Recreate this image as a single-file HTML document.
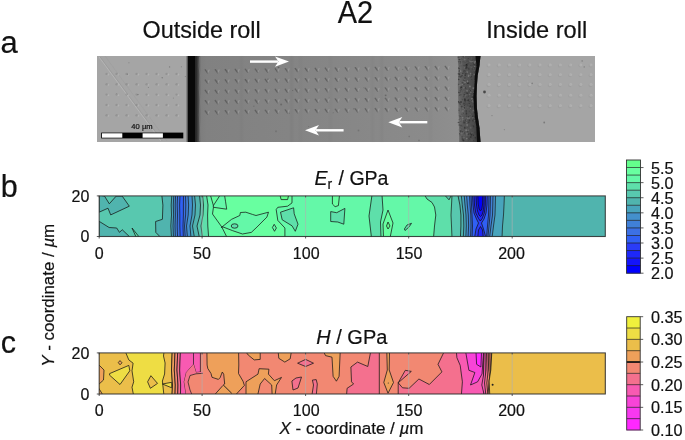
<!DOCTYPE html>
<html><head><meta charset="utf-8"><style>
html,body{margin:0;padding:0;background:#fff;}
svg{display:block;font-family:"Liberation Sans", sans-serif;will-change:transform;}
text{fill:#111;stroke:#111;stroke-width:0.2px;}
</style></head><body>
<svg width="685" height="440" viewBox="0 0 685 440">
<rect width="685" height="440" fill="#fff"/>
<defs><filter id="bl" x="-5%" y="-5%" width="110%" height="110%"><feGaussianBlur stdDeviation="0.75"/></filter><filter id="bl2" x="-5%" y="-5%" width="110%" height="110%"><feGaussianBlur stdDeviation="0.8"/></filter><filter id="bl3"><feGaussianBlur stdDeviation="0.35"/></filter><linearGradient id="gm" x1="0" x2="1" y1="0" y2="0"><stop offset="0" stop-color="#7a7a7a"/><stop offset="0.04" stop-color="#818181"/><stop offset="0.45" stop-color="#858585"/><stop offset="0.88" stop-color="#8b8b8b"/><stop offset="1" stop-color="#8f8f8f"/></linearGradient><linearGradient id="gd" x1="0" x2="1" y1="0" y2="0"><stop offset="0" stop-color="#6e6e6e"/><stop offset="0.25" stop-color="#585858"/><stop offset="0.7" stop-color="#4a4a4a"/><stop offset="1" stop-color="#2e2e2e"/></linearGradient></defs>
<g id="micro">
<rect x="97" y="56" width="498" height="86" fill="#a5a5a5"/>
<rect x="195.5" y="56" width="266.5" height="86" fill="url(#gm)"/>
<g filter="url(#bl2)">
<rect x="241" y="56" width="1.2" height="86" fill="#000" opacity="0.05"/>
<rect x="291" y="56" width="1.2" height="86" fill="#000" opacity="0.08"/>
<rect x="300" y="56" width="1.2" height="86" fill="#000" opacity="0.04"/>
<rect x="330" y="56" width="1.2" height="86" fill="#000" opacity="0.04"/>
<rect x="372" y="56" width="1.2" height="86" fill="#000" opacity="0.05"/>
<rect x="381" y="56" width="1.2" height="86" fill="#000" opacity="0.06"/>
<rect x="430" y="56" width="1.2" height="86" fill="#000" opacity="0.04"/>
</g>
<g filter="url(#bl)">
<line x1="99" y1="57" x2="161" y2="141" stroke="#c4c4c4" stroke-width="0.9" opacity="0.55"/>
<line x1="100.2" y1="57" x2="162.2" y2="141" stroke="#7a7a7a" stroke-width="0.6" opacity="0.35"/>
<line x1="105" y1="56" x2="167" y2="141" stroke="#8c8c8c" stroke-width="0.6" opacity="0.3"/>
<circle cx="106.6" cy="73.9" r="1.2" fill="#555" opacity="0.22"/>
<circle cx="108.4" cy="74.5" r="0.9" fill="#d4d4d4" opacity="0.3"/>
<circle cx="116.6" cy="73.9" r="1.2" fill="#555" opacity="0.22"/>
<circle cx="118.4" cy="74.5" r="0.9" fill="#d4d4d4" opacity="0.3"/>
<circle cx="126.6" cy="73.9" r="1.2" fill="#555" opacity="0.22"/>
<circle cx="128.4" cy="74.5" r="0.9" fill="#d4d4d4" opacity="0.3"/>
<circle cx="136.6" cy="73.9" r="1.2" fill="#555" opacity="0.22"/>
<circle cx="138.4" cy="74.5" r="0.9" fill="#d4d4d4" opacity="0.3"/>
<circle cx="146.6" cy="73.9" r="1.2" fill="#555" opacity="0.22"/>
<circle cx="148.4" cy="74.5" r="0.9" fill="#d4d4d4" opacity="0.3"/>
<circle cx="156.6" cy="73.9" r="1.2" fill="#555" opacity="0.22"/>
<circle cx="158.4" cy="74.5" r="0.9" fill="#d4d4d4" opacity="0.3"/>
<circle cx="166.6" cy="73.9" r="1.2" fill="#555" opacity="0.22"/>
<circle cx="168.4" cy="74.5" r="0.9" fill="#d4d4d4" opacity="0.3"/>
<circle cx="176.6" cy="73.9" r="1.2" fill="#555" opacity="0.22"/>
<circle cx="178.4" cy="74.5" r="0.9" fill="#d4d4d4" opacity="0.3"/>
<circle cx="106.6" cy="84.2" r="1.2" fill="#555" opacity="0.22"/>
<circle cx="108.4" cy="84.8" r="0.9" fill="#d4d4d4" opacity="0.3"/>
<circle cx="116.6" cy="84.2" r="1.2" fill="#555" opacity="0.22"/>
<circle cx="118.4" cy="84.8" r="0.9" fill="#d4d4d4" opacity="0.3"/>
<circle cx="126.6" cy="84.2" r="1.2" fill="#555" opacity="0.22"/>
<circle cx="128.4" cy="84.8" r="0.9" fill="#d4d4d4" opacity="0.3"/>
<circle cx="136.6" cy="84.2" r="1.2" fill="#555" opacity="0.22"/>
<circle cx="138.4" cy="84.8" r="0.9" fill="#d4d4d4" opacity="0.3"/>
<circle cx="146.6" cy="84.2" r="1.2" fill="#555" opacity="0.22"/>
<circle cx="148.4" cy="84.8" r="0.9" fill="#d4d4d4" opacity="0.3"/>
<circle cx="156.6" cy="84.2" r="1.2" fill="#555" opacity="0.22"/>
<circle cx="158.4" cy="84.8" r="0.9" fill="#d4d4d4" opacity="0.3"/>
<circle cx="166.6" cy="84.2" r="1.2" fill="#555" opacity="0.22"/>
<circle cx="168.4" cy="84.8" r="0.9" fill="#d4d4d4" opacity="0.3"/>
<circle cx="176.6" cy="84.2" r="1.2" fill="#555" opacity="0.22"/>
<circle cx="178.4" cy="84.8" r="0.9" fill="#d4d4d4" opacity="0.3"/>
<circle cx="106.6" cy="94.6" r="1.2" fill="#555" opacity="0.22"/>
<circle cx="108.4" cy="95.2" r="0.9" fill="#d4d4d4" opacity="0.3"/>
<circle cx="116.6" cy="94.6" r="1.2" fill="#555" opacity="0.22"/>
<circle cx="118.4" cy="95.2" r="0.9" fill="#d4d4d4" opacity="0.3"/>
<circle cx="126.6" cy="94.6" r="1.2" fill="#555" opacity="0.22"/>
<circle cx="128.4" cy="95.2" r="0.9" fill="#d4d4d4" opacity="0.3"/>
<circle cx="136.6" cy="94.6" r="1.2" fill="#555" opacity="0.22"/>
<circle cx="138.4" cy="95.2" r="0.9" fill="#d4d4d4" opacity="0.3"/>
<circle cx="146.6" cy="94.6" r="1.2" fill="#555" opacity="0.22"/>
<circle cx="148.4" cy="95.2" r="0.9" fill="#d4d4d4" opacity="0.3"/>
<circle cx="156.6" cy="94.6" r="1.2" fill="#555" opacity="0.22"/>
<circle cx="158.4" cy="95.2" r="0.9" fill="#d4d4d4" opacity="0.3"/>
<circle cx="166.6" cy="94.6" r="1.2" fill="#555" opacity="0.22"/>
<circle cx="168.4" cy="95.2" r="0.9" fill="#d4d4d4" opacity="0.3"/>
<circle cx="176.6" cy="94.6" r="1.2" fill="#555" opacity="0.22"/>
<circle cx="178.4" cy="95.2" r="0.9" fill="#d4d4d4" opacity="0.3"/>
<circle cx="106.6" cy="104.9" r="1.2" fill="#555" opacity="0.22"/>
<circle cx="108.4" cy="105.5" r="0.9" fill="#d4d4d4" opacity="0.3"/>
<circle cx="116.6" cy="104.9" r="1.2" fill="#555" opacity="0.22"/>
<circle cx="118.4" cy="105.5" r="0.9" fill="#d4d4d4" opacity="0.3"/>
<circle cx="126.6" cy="104.9" r="1.2" fill="#555" opacity="0.22"/>
<circle cx="128.4" cy="105.5" r="0.9" fill="#d4d4d4" opacity="0.3"/>
<circle cx="136.6" cy="104.9" r="1.2" fill="#555" opacity="0.22"/>
<circle cx="138.4" cy="105.5" r="0.9" fill="#d4d4d4" opacity="0.3"/>
<circle cx="146.6" cy="104.9" r="1.2" fill="#555" opacity="0.22"/>
<circle cx="148.4" cy="105.5" r="0.9" fill="#d4d4d4" opacity="0.3"/>
<circle cx="156.6" cy="104.9" r="1.2" fill="#555" opacity="0.22"/>
<circle cx="158.4" cy="105.5" r="0.9" fill="#d4d4d4" opacity="0.3"/>
<circle cx="166.6" cy="104.9" r="1.2" fill="#555" opacity="0.22"/>
<circle cx="168.4" cy="105.5" r="0.9" fill="#d4d4d4" opacity="0.3"/>
<circle cx="176.6" cy="104.9" r="1.2" fill="#555" opacity="0.22"/>
<circle cx="178.4" cy="105.5" r="0.9" fill="#d4d4d4" opacity="0.3"/>
<circle cx="106.6" cy="115.2" r="1.2" fill="#555" opacity="0.22"/>
<circle cx="108.4" cy="115.8" r="0.9" fill="#d4d4d4" opacity="0.3"/>
<circle cx="116.6" cy="115.2" r="1.2" fill="#555" opacity="0.22"/>
<circle cx="118.4" cy="115.8" r="0.9" fill="#d4d4d4" opacity="0.3"/>
<circle cx="126.6" cy="115.2" r="1.2" fill="#555" opacity="0.22"/>
<circle cx="128.4" cy="115.8" r="0.9" fill="#d4d4d4" opacity="0.3"/>
<circle cx="136.6" cy="115.2" r="1.2" fill="#555" opacity="0.22"/>
<circle cx="138.4" cy="115.8" r="0.9" fill="#d4d4d4" opacity="0.3"/>
<circle cx="146.6" cy="115.2" r="1.2" fill="#555" opacity="0.22"/>
<circle cx="148.4" cy="115.8" r="0.9" fill="#d4d4d4" opacity="0.3"/>
<circle cx="156.6" cy="115.2" r="1.2" fill="#555" opacity="0.22"/>
<circle cx="158.4" cy="115.8" r="0.9" fill="#d4d4d4" opacity="0.3"/>
<circle cx="166.6" cy="115.2" r="1.2" fill="#555" opacity="0.22"/>
<circle cx="168.4" cy="115.8" r="0.9" fill="#d4d4d4" opacity="0.3"/>
<circle cx="176.6" cy="115.2" r="1.2" fill="#555" opacity="0.22"/>
<circle cx="178.4" cy="115.8" r="0.9" fill="#d4d4d4" opacity="0.3"/>
<path d="M205.3,69.8 L207.5,72.8" stroke="#3a3a3a" stroke-width="1.4" stroke-linecap="round" opacity="0.45"/>
<path d="M207.9,72.6 L209.1,70.0" stroke="#bdbdbd" stroke-width="1.1" stroke-linecap="round" opacity="0.36"/>
<path d="M215.3,69.7 L217.5,72.7" stroke="#3a3a3a" stroke-width="1.4" stroke-linecap="round" opacity="0.45"/>
<path d="M217.9,72.5 L219.1,69.9" stroke="#bdbdbd" stroke-width="1.1" stroke-linecap="round" opacity="0.36"/>
<path d="M225.3,69.5 L227.5,72.5" stroke="#3a3a3a" stroke-width="1.4" stroke-linecap="round" opacity="0.45"/>
<path d="M227.9,72.3 L229.1,69.7" stroke="#bdbdbd" stroke-width="1.1" stroke-linecap="round" opacity="0.36"/>
<path d="M235.3,69.4 L237.5,72.4" stroke="#3a3a3a" stroke-width="1.4" stroke-linecap="round" opacity="0.45"/>
<path d="M237.9,72.2 L239.1,69.6" stroke="#bdbdbd" stroke-width="1.1" stroke-linecap="round" opacity="0.36"/>
<path d="M245.3,69.2 L247.5,72.2" stroke="#3a3a3a" stroke-width="1.4" stroke-linecap="round" opacity="0.45"/>
<path d="M247.9,72.0 L249.1,69.4" stroke="#bdbdbd" stroke-width="1.1" stroke-linecap="round" opacity="0.36"/>
<path d="M255.3,69.1 L257.5,72.1" stroke="#3a3a3a" stroke-width="1.4" stroke-linecap="round" opacity="0.45"/>
<path d="M257.9,71.9 L259.1,69.3" stroke="#bdbdbd" stroke-width="1.1" stroke-linecap="round" opacity="0.36"/>
<path d="M265.3,69.0 L267.5,72.0" stroke="#3a3a3a" stroke-width="1.4" stroke-linecap="round" opacity="0.45"/>
<path d="M267.9,71.8 L269.1,69.2" stroke="#bdbdbd" stroke-width="1.1" stroke-linecap="round" opacity="0.36"/>
<path d="M275.3,68.8 L277.5,71.8" stroke="#3a3a3a" stroke-width="1.4" stroke-linecap="round" opacity="0.45"/>
<path d="M277.9,71.6 L279.1,69.0" stroke="#bdbdbd" stroke-width="1.1" stroke-linecap="round" opacity="0.36"/>
<path d="M285.3,68.7 L287.5,71.7" stroke="#3a3a3a" stroke-width="1.4" stroke-linecap="round" opacity="0.45"/>
<path d="M287.9,71.5 L289.1,68.9" stroke="#bdbdbd" stroke-width="1.1" stroke-linecap="round" opacity="0.36"/>
<path d="M295.3,68.5 L297.5,71.5" stroke="#3a3a3a" stroke-width="1.4" stroke-linecap="round" opacity="0.45"/>
<path d="M297.9,71.3 L299.1,68.7" stroke="#bdbdbd" stroke-width="1.1" stroke-linecap="round" opacity="0.36"/>
<path d="M305.3,68.4 L307.5,71.4" stroke="#3a3a3a" stroke-width="1.4" stroke-linecap="round" opacity="0.45"/>
<path d="M307.9,71.2 L309.1,68.6" stroke="#bdbdbd" stroke-width="1.1" stroke-linecap="round" opacity="0.36"/>
<path d="M315.3,68.3 L317.5,71.3" stroke="#3a3a3a" stroke-width="1.4" stroke-linecap="round" opacity="0.45"/>
<path d="M317.9,71.1 L319.1,68.5" stroke="#bdbdbd" stroke-width="1.1" stroke-linecap="round" opacity="0.36"/>
<path d="M325.3,68.1 L327.5,71.1" stroke="#3a3a3a" stroke-width="1.4" stroke-linecap="round" opacity="0.45"/>
<path d="M327.9,70.9 L329.1,68.3" stroke="#bdbdbd" stroke-width="1.1" stroke-linecap="round" opacity="0.36"/>
<path d="M335.3,68.0 L337.5,71.0" stroke="#3a3a3a" stroke-width="1.4" stroke-linecap="round" opacity="0.45"/>
<path d="M337.9,70.8 L339.1,68.2" stroke="#bdbdbd" stroke-width="1.1" stroke-linecap="round" opacity="0.36"/>
<path d="M345.3,67.8 L347.5,70.8" stroke="#3a3a3a" stroke-width="1.4" stroke-linecap="round" opacity="0.45"/>
<path d="M347.9,70.6 L349.1,68.0" stroke="#bdbdbd" stroke-width="1.1" stroke-linecap="round" opacity="0.36"/>
<path d="M355.3,67.7 L357.5,70.7" stroke="#3a3a3a" stroke-width="1.4" stroke-linecap="round" opacity="0.45"/>
<path d="M357.9,70.5 L359.1,67.9" stroke="#bdbdbd" stroke-width="1.1" stroke-linecap="round" opacity="0.36"/>
<path d="M365.3,67.6 L367.5,70.6" stroke="#3a3a3a" stroke-width="1.4" stroke-linecap="round" opacity="0.45"/>
<path d="M367.9,70.4 L369.1,67.8" stroke="#bdbdbd" stroke-width="1.1" stroke-linecap="round" opacity="0.36"/>
<path d="M375.3,67.4 L377.5,70.4" stroke="#3a3a3a" stroke-width="1.4" stroke-linecap="round" opacity="0.45"/>
<path d="M377.9,70.2 L379.1,67.6" stroke="#bdbdbd" stroke-width="1.1" stroke-linecap="round" opacity="0.36"/>
<path d="M385.3,67.3 L387.5,70.3" stroke="#3a3a3a" stroke-width="1.4" stroke-linecap="round" opacity="0.45"/>
<path d="M387.9,70.1 L389.1,67.5" stroke="#bdbdbd" stroke-width="1.1" stroke-linecap="round" opacity="0.36"/>
<path d="M395.3,67.1 L397.5,70.1" stroke="#3a3a3a" stroke-width="1.4" stroke-linecap="round" opacity="0.45"/>
<path d="M397.9,69.9 L399.1,67.3" stroke="#bdbdbd" stroke-width="1.1" stroke-linecap="round" opacity="0.36"/>
<path d="M405.3,67.0 L407.5,70.0" stroke="#3a3a3a" stroke-width="1.4" stroke-linecap="round" opacity="0.45"/>
<path d="M407.9,69.8 L409.1,67.2" stroke="#bdbdbd" stroke-width="1.1" stroke-linecap="round" opacity="0.36"/>
<path d="M415.3,66.9 L417.5,69.9" stroke="#3a3a3a" stroke-width="1.4" stroke-linecap="round" opacity="0.45"/>
<path d="M417.9,69.7 L419.1,67.1" stroke="#bdbdbd" stroke-width="1.1" stroke-linecap="round" opacity="0.36"/>
<path d="M425.3,66.7 L427.5,69.7" stroke="#3a3a3a" stroke-width="1.4" stroke-linecap="round" opacity="0.45"/>
<path d="M427.9,69.5 L429.1,66.9" stroke="#bdbdbd" stroke-width="1.1" stroke-linecap="round" opacity="0.36"/>
<path d="M435.3,66.6 L437.5,69.6" stroke="#3a3a3a" stroke-width="1.4" stroke-linecap="round" opacity="0.45"/>
<path d="M437.9,69.4 L439.1,66.8" stroke="#bdbdbd" stroke-width="1.1" stroke-linecap="round" opacity="0.36"/>
<path d="M445.3,66.4 L447.5,69.4" stroke="#3a3a3a" stroke-width="1.4" stroke-linecap="round" opacity="0.45"/>
<path d="M447.9,69.2 L449.1,66.6" stroke="#bdbdbd" stroke-width="1.1" stroke-linecap="round" opacity="0.36"/>
<path d="M205.3,80.1 L207.5,83.1" stroke="#3a3a3a" stroke-width="1.4" stroke-linecap="round" opacity="0.45"/>
<path d="M207.9,82.9 L209.1,80.3" stroke="#bdbdbd" stroke-width="1.1" stroke-linecap="round" opacity="0.36"/>
<path d="M215.3,80.0 L217.5,83.0" stroke="#3a3a3a" stroke-width="1.4" stroke-linecap="round" opacity="0.45"/>
<path d="M217.9,82.8 L219.1,80.2" stroke="#bdbdbd" stroke-width="1.1" stroke-linecap="round" opacity="0.36"/>
<path d="M225.3,79.8 L227.5,82.8" stroke="#3a3a3a" stroke-width="1.4" stroke-linecap="round" opacity="0.45"/>
<path d="M227.9,82.6 L229.1,80.0" stroke="#bdbdbd" stroke-width="1.1" stroke-linecap="round" opacity="0.36"/>
<path d="M235.3,79.7 L237.5,82.7" stroke="#3a3a3a" stroke-width="1.4" stroke-linecap="round" opacity="0.45"/>
<path d="M237.9,82.5 L239.1,79.9" stroke="#bdbdbd" stroke-width="1.1" stroke-linecap="round" opacity="0.36"/>
<path d="M245.3,79.5 L247.5,82.5" stroke="#3a3a3a" stroke-width="1.4" stroke-linecap="round" opacity="0.45"/>
<path d="M247.9,82.3 L249.1,79.7" stroke="#bdbdbd" stroke-width="1.1" stroke-linecap="round" opacity="0.36"/>
<path d="M255.3,79.4 L257.5,82.4" stroke="#3a3a3a" stroke-width="1.4" stroke-linecap="round" opacity="0.45"/>
<path d="M257.9,82.2 L259.1,79.6" stroke="#bdbdbd" stroke-width="1.1" stroke-linecap="round" opacity="0.36"/>
<path d="M265.3,79.3 L267.5,82.3" stroke="#3a3a3a" stroke-width="1.4" stroke-linecap="round" opacity="0.45"/>
<path d="M267.9,82.1 L269.1,79.5" stroke="#bdbdbd" stroke-width="1.1" stroke-linecap="round" opacity="0.36"/>
<path d="M275.3,79.1 L277.5,82.1" stroke="#3a3a3a" stroke-width="1.4" stroke-linecap="round" opacity="0.45"/>
<path d="M277.9,81.9 L279.1,79.3" stroke="#bdbdbd" stroke-width="1.1" stroke-linecap="round" opacity="0.36"/>
<path d="M285.3,79.0 L287.5,82.0" stroke="#3a3a3a" stroke-width="1.4" stroke-linecap="round" opacity="0.45"/>
<path d="M287.9,81.8 L289.1,79.2" stroke="#bdbdbd" stroke-width="1.1" stroke-linecap="round" opacity="0.36"/>
<path d="M295.3,78.8 L297.5,81.8" stroke="#3a3a3a" stroke-width="1.4" stroke-linecap="round" opacity="0.45"/>
<path d="M297.9,81.6 L299.1,79.0" stroke="#bdbdbd" stroke-width="1.1" stroke-linecap="round" opacity="0.36"/>
<path d="M305.3,78.7 L307.5,81.7" stroke="#3a3a3a" stroke-width="1.4" stroke-linecap="round" opacity="0.45"/>
<path d="M307.9,81.5 L309.1,78.9" stroke="#bdbdbd" stroke-width="1.1" stroke-linecap="round" opacity="0.36"/>
<path d="M315.3,78.6 L317.5,81.6" stroke="#3a3a3a" stroke-width="1.4" stroke-linecap="round" opacity="0.45"/>
<path d="M317.9,81.4 L319.1,78.8" stroke="#bdbdbd" stroke-width="1.1" stroke-linecap="round" opacity="0.36"/>
<path d="M325.3,78.4 L327.5,81.4" stroke="#3a3a3a" stroke-width="1.4" stroke-linecap="round" opacity="0.45"/>
<path d="M327.9,81.2 L329.1,78.6" stroke="#bdbdbd" stroke-width="1.1" stroke-linecap="round" opacity="0.36"/>
<path d="M335.3,78.3 L337.5,81.3" stroke="#3a3a3a" stroke-width="1.4" stroke-linecap="round" opacity="0.45"/>
<path d="M337.9,81.1 L339.1,78.5" stroke="#bdbdbd" stroke-width="1.1" stroke-linecap="round" opacity="0.36"/>
<path d="M345.3,78.1 L347.5,81.1" stroke="#3a3a3a" stroke-width="1.4" stroke-linecap="round" opacity="0.45"/>
<path d="M347.9,80.9 L349.1,78.3" stroke="#bdbdbd" stroke-width="1.1" stroke-linecap="round" opacity="0.36"/>
<path d="M355.3,78.0 L357.5,81.0" stroke="#3a3a3a" stroke-width="1.4" stroke-linecap="round" opacity="0.45"/>
<path d="M357.9,80.8 L359.1,78.2" stroke="#bdbdbd" stroke-width="1.1" stroke-linecap="round" opacity="0.36"/>
<path d="M365.3,77.9 L367.5,80.9" stroke="#3a3a3a" stroke-width="1.4" stroke-linecap="round" opacity="0.45"/>
<path d="M367.9,80.7 L369.1,78.1" stroke="#bdbdbd" stroke-width="1.1" stroke-linecap="round" opacity="0.36"/>
<path d="M375.3,77.7 L377.5,80.7" stroke="#3a3a3a" stroke-width="1.4" stroke-linecap="round" opacity="0.45"/>
<path d="M377.9,80.5 L379.1,77.9" stroke="#bdbdbd" stroke-width="1.1" stroke-linecap="round" opacity="0.36"/>
<path d="M385.3,77.6 L387.5,80.6" stroke="#3a3a3a" stroke-width="1.4" stroke-linecap="round" opacity="0.45"/>
<path d="M387.9,80.4 L389.1,77.8" stroke="#bdbdbd" stroke-width="1.1" stroke-linecap="round" opacity="0.36"/>
<path d="M395.3,77.4 L397.5,80.4" stroke="#3a3a3a" stroke-width="1.4" stroke-linecap="round" opacity="0.45"/>
<path d="M397.9,80.2 L399.1,77.6" stroke="#bdbdbd" stroke-width="1.1" stroke-linecap="round" opacity="0.36"/>
<path d="M405.3,77.3 L407.5,80.3" stroke="#3a3a3a" stroke-width="1.4" stroke-linecap="round" opacity="0.45"/>
<path d="M407.9,80.1 L409.1,77.5" stroke="#bdbdbd" stroke-width="1.1" stroke-linecap="round" opacity="0.36"/>
<path d="M415.3,77.2 L417.5,80.2" stroke="#3a3a3a" stroke-width="1.4" stroke-linecap="round" opacity="0.45"/>
<path d="M417.9,80.0 L419.1,77.4" stroke="#bdbdbd" stroke-width="1.1" stroke-linecap="round" opacity="0.36"/>
<path d="M425.3,77.0 L427.5,80.0" stroke="#3a3a3a" stroke-width="1.4" stroke-linecap="round" opacity="0.45"/>
<path d="M427.9,79.8 L429.1,77.2" stroke="#bdbdbd" stroke-width="1.1" stroke-linecap="round" opacity="0.36"/>
<path d="M435.3,76.9 L437.5,79.9" stroke="#3a3a3a" stroke-width="1.4" stroke-linecap="round" opacity="0.45"/>
<path d="M437.9,79.7 L439.1,77.1" stroke="#bdbdbd" stroke-width="1.1" stroke-linecap="round" opacity="0.36"/>
<path d="M445.3,76.7 L447.5,79.7" stroke="#3a3a3a" stroke-width="1.4" stroke-linecap="round" opacity="0.45"/>
<path d="M447.9,79.5 L449.1,76.9" stroke="#bdbdbd" stroke-width="1.1" stroke-linecap="round" opacity="0.36"/>
<path d="M205.3,90.4 L207.5,93.4" stroke="#3a3a3a" stroke-width="1.4" stroke-linecap="round" opacity="0.45"/>
<path d="M207.9,93.2 L209.1,90.6" stroke="#bdbdbd" stroke-width="1.1" stroke-linecap="round" opacity="0.36"/>
<path d="M215.3,90.3 L217.5,93.3" stroke="#3a3a3a" stroke-width="1.4" stroke-linecap="round" opacity="0.45"/>
<path d="M217.9,93.1 L219.1,90.5" stroke="#bdbdbd" stroke-width="1.1" stroke-linecap="round" opacity="0.36"/>
<path d="M225.3,90.1 L227.5,93.1" stroke="#3a3a3a" stroke-width="1.4" stroke-linecap="round" opacity="0.45"/>
<path d="M227.9,92.9 L229.1,90.3" stroke="#bdbdbd" stroke-width="1.1" stroke-linecap="round" opacity="0.36"/>
<path d="M235.3,90.0 L237.5,93.0" stroke="#3a3a3a" stroke-width="1.4" stroke-linecap="round" opacity="0.45"/>
<path d="M237.9,92.8 L239.1,90.2" stroke="#bdbdbd" stroke-width="1.1" stroke-linecap="round" opacity="0.36"/>
<path d="M245.3,89.8 L247.5,92.8" stroke="#3a3a3a" stroke-width="1.4" stroke-linecap="round" opacity="0.45"/>
<path d="M247.9,92.6 L249.1,90.0" stroke="#bdbdbd" stroke-width="1.1" stroke-linecap="round" opacity="0.36"/>
<path d="M255.3,89.7 L257.5,92.7" stroke="#3a3a3a" stroke-width="1.4" stroke-linecap="round" opacity="0.45"/>
<path d="M257.9,92.5 L259.1,89.9" stroke="#bdbdbd" stroke-width="1.1" stroke-linecap="round" opacity="0.36"/>
<path d="M265.3,89.6 L267.5,92.6" stroke="#3a3a3a" stroke-width="1.4" stroke-linecap="round" opacity="0.45"/>
<path d="M267.9,92.4 L269.1,89.8" stroke="#bdbdbd" stroke-width="1.1" stroke-linecap="round" opacity="0.36"/>
<path d="M275.3,89.4 L277.5,92.4" stroke="#3a3a3a" stroke-width="1.4" stroke-linecap="round" opacity="0.45"/>
<path d="M277.9,92.2 L279.1,89.6" stroke="#bdbdbd" stroke-width="1.1" stroke-linecap="round" opacity="0.36"/>
<path d="M285.3,89.3 L287.5,92.3" stroke="#3a3a3a" stroke-width="1.4" stroke-linecap="round" opacity="0.45"/>
<path d="M287.9,92.1 L289.1,89.5" stroke="#bdbdbd" stroke-width="1.1" stroke-linecap="round" opacity="0.36"/>
<path d="M295.3,89.1 L297.5,92.1" stroke="#3a3a3a" stroke-width="1.4" stroke-linecap="round" opacity="0.45"/>
<path d="M297.9,91.9 L299.1,89.3" stroke="#bdbdbd" stroke-width="1.1" stroke-linecap="round" opacity="0.36"/>
<path d="M305.3,89.0 L307.5,92.0" stroke="#3a3a3a" stroke-width="1.4" stroke-linecap="round" opacity="0.45"/>
<path d="M307.9,91.8 L309.1,89.2" stroke="#bdbdbd" stroke-width="1.1" stroke-linecap="round" opacity="0.36"/>
<path d="M315.3,88.9 L317.5,91.9" stroke="#3a3a3a" stroke-width="1.4" stroke-linecap="round" opacity="0.45"/>
<path d="M317.9,91.7 L319.1,89.1" stroke="#bdbdbd" stroke-width="1.1" stroke-linecap="round" opacity="0.36"/>
<path d="M325.3,88.7 L327.5,91.7" stroke="#3a3a3a" stroke-width="1.4" stroke-linecap="round" opacity="0.45"/>
<path d="M327.9,91.5 L329.1,88.9" stroke="#bdbdbd" stroke-width="1.1" stroke-linecap="round" opacity="0.36"/>
<path d="M335.3,88.6 L337.5,91.6" stroke="#3a3a3a" stroke-width="1.4" stroke-linecap="round" opacity="0.45"/>
<path d="M337.9,91.4 L339.1,88.8" stroke="#bdbdbd" stroke-width="1.1" stroke-linecap="round" opacity="0.36"/>
<path d="M345.3,88.4 L347.5,91.4" stroke="#3a3a3a" stroke-width="1.4" stroke-linecap="round" opacity="0.45"/>
<path d="M347.9,91.2 L349.1,88.6" stroke="#bdbdbd" stroke-width="1.1" stroke-linecap="round" opacity="0.36"/>
<path d="M355.3,88.3 L357.5,91.3" stroke="#3a3a3a" stroke-width="1.4" stroke-linecap="round" opacity="0.45"/>
<path d="M357.9,91.1 L359.1,88.5" stroke="#bdbdbd" stroke-width="1.1" stroke-linecap="round" opacity="0.36"/>
<path d="M365.3,88.2 L367.5,91.2" stroke="#3a3a3a" stroke-width="1.4" stroke-linecap="round" opacity="0.45"/>
<path d="M367.9,91.0 L369.1,88.4" stroke="#bdbdbd" stroke-width="1.1" stroke-linecap="round" opacity="0.36"/>
<path d="M375.3,88.0 L377.5,91.0" stroke="#3a3a3a" stroke-width="1.4" stroke-linecap="round" opacity="0.45"/>
<path d="M377.9,90.8 L379.1,88.2" stroke="#bdbdbd" stroke-width="1.1" stroke-linecap="round" opacity="0.36"/>
<path d="M385.3,87.9 L387.5,90.9" stroke="#3a3a3a" stroke-width="1.4" stroke-linecap="round" opacity="0.45"/>
<path d="M387.9,90.7 L389.1,88.1" stroke="#bdbdbd" stroke-width="1.1" stroke-linecap="round" opacity="0.36"/>
<path d="M395.3,87.7 L397.5,90.7" stroke="#3a3a3a" stroke-width="1.4" stroke-linecap="round" opacity="0.45"/>
<path d="M397.9,90.5 L399.1,87.9" stroke="#bdbdbd" stroke-width="1.1" stroke-linecap="round" opacity="0.36"/>
<path d="M405.3,87.6 L407.5,90.6" stroke="#3a3a3a" stroke-width="1.4" stroke-linecap="round" opacity="0.45"/>
<path d="M407.9,90.4 L409.1,87.8" stroke="#bdbdbd" stroke-width="1.1" stroke-linecap="round" opacity="0.36"/>
<path d="M415.3,87.5 L417.5,90.5" stroke="#3a3a3a" stroke-width="1.4" stroke-linecap="round" opacity="0.45"/>
<path d="M417.9,90.3 L419.1,87.7" stroke="#bdbdbd" stroke-width="1.1" stroke-linecap="round" opacity="0.36"/>
<path d="M425.3,87.3 L427.5,90.3" stroke="#3a3a3a" stroke-width="1.4" stroke-linecap="round" opacity="0.45"/>
<path d="M427.9,90.1 L429.1,87.5" stroke="#bdbdbd" stroke-width="1.1" stroke-linecap="round" opacity="0.36"/>
<path d="M435.3,87.2 L437.5,90.2" stroke="#3a3a3a" stroke-width="1.4" stroke-linecap="round" opacity="0.45"/>
<path d="M437.9,90.0 L439.1,87.4" stroke="#bdbdbd" stroke-width="1.1" stroke-linecap="round" opacity="0.36"/>
<path d="M445.3,87.0 L447.5,90.0" stroke="#3a3a3a" stroke-width="1.4" stroke-linecap="round" opacity="0.45"/>
<path d="M447.9,89.8 L449.1,87.2" stroke="#bdbdbd" stroke-width="1.1" stroke-linecap="round" opacity="0.36"/>
<path d="M205.3,100.7 L207.5,103.7" stroke="#3a3a3a" stroke-width="1.4" stroke-linecap="round" opacity="0.45"/>
<path d="M207.9,103.5 L209.1,100.9" stroke="#bdbdbd" stroke-width="1.1" stroke-linecap="round" opacity="0.36"/>
<path d="M215.3,100.6 L217.5,103.6" stroke="#3a3a3a" stroke-width="1.4" stroke-linecap="round" opacity="0.45"/>
<path d="M217.9,103.4 L219.1,100.8" stroke="#bdbdbd" stroke-width="1.1" stroke-linecap="round" opacity="0.36"/>
<path d="M225.3,100.4 L227.5,103.4" stroke="#3a3a3a" stroke-width="1.4" stroke-linecap="round" opacity="0.45"/>
<path d="M227.9,103.2 L229.1,100.6" stroke="#bdbdbd" stroke-width="1.1" stroke-linecap="round" opacity="0.36"/>
<path d="M235.3,100.3 L237.5,103.3" stroke="#3a3a3a" stroke-width="1.4" stroke-linecap="round" opacity="0.45"/>
<path d="M237.9,103.1 L239.1,100.5" stroke="#bdbdbd" stroke-width="1.1" stroke-linecap="round" opacity="0.36"/>
<path d="M245.3,100.1 L247.5,103.1" stroke="#3a3a3a" stroke-width="1.4" stroke-linecap="round" opacity="0.45"/>
<path d="M247.9,102.9 L249.1,100.3" stroke="#bdbdbd" stroke-width="1.1" stroke-linecap="round" opacity="0.36"/>
<path d="M255.3,100.0 L257.5,103.0" stroke="#3a3a3a" stroke-width="1.4" stroke-linecap="round" opacity="0.45"/>
<path d="M257.9,102.8 L259.1,100.2" stroke="#bdbdbd" stroke-width="1.1" stroke-linecap="round" opacity="0.36"/>
<path d="M265.3,99.9 L267.5,102.9" stroke="#3a3a3a" stroke-width="1.4" stroke-linecap="round" opacity="0.45"/>
<path d="M267.9,102.7 L269.1,100.1" stroke="#bdbdbd" stroke-width="1.1" stroke-linecap="round" opacity="0.36"/>
<path d="M275.3,99.7 L277.5,102.7" stroke="#3a3a3a" stroke-width="1.4" stroke-linecap="round" opacity="0.45"/>
<path d="M277.9,102.5 L279.1,99.9" stroke="#bdbdbd" stroke-width="1.1" stroke-linecap="round" opacity="0.36"/>
<path d="M285.3,99.6 L287.5,102.6" stroke="#3a3a3a" stroke-width="1.4" stroke-linecap="round" opacity="0.45"/>
<path d="M287.9,102.4 L289.1,99.8" stroke="#bdbdbd" stroke-width="1.1" stroke-linecap="round" opacity="0.36"/>
<path d="M295.3,99.4 L297.5,102.4" stroke="#3a3a3a" stroke-width="1.4" stroke-linecap="round" opacity="0.45"/>
<path d="M297.9,102.2 L299.1,99.6" stroke="#bdbdbd" stroke-width="1.1" stroke-linecap="round" opacity="0.36"/>
<path d="M305.3,99.3 L307.5,102.3" stroke="#3a3a3a" stroke-width="1.4" stroke-linecap="round" opacity="0.45"/>
<path d="M307.9,102.1 L309.1,99.5" stroke="#bdbdbd" stroke-width="1.1" stroke-linecap="round" opacity="0.36"/>
<path d="M315.3,99.2 L317.5,102.2" stroke="#3a3a3a" stroke-width="1.4" stroke-linecap="round" opacity="0.45"/>
<path d="M317.9,102.0 L319.1,99.4" stroke="#bdbdbd" stroke-width="1.1" stroke-linecap="round" opacity="0.36"/>
<path d="M325.3,99.0 L327.5,102.0" stroke="#3a3a3a" stroke-width="1.4" stroke-linecap="round" opacity="0.45"/>
<path d="M327.9,101.8 L329.1,99.2" stroke="#bdbdbd" stroke-width="1.1" stroke-linecap="round" opacity="0.36"/>
<path d="M335.3,98.9 L337.5,101.9" stroke="#3a3a3a" stroke-width="1.4" stroke-linecap="round" opacity="0.45"/>
<path d="M337.9,101.7 L339.1,99.1" stroke="#bdbdbd" stroke-width="1.1" stroke-linecap="round" opacity="0.36"/>
<path d="M345.3,98.7 L347.5,101.7" stroke="#3a3a3a" stroke-width="1.4" stroke-linecap="round" opacity="0.45"/>
<path d="M347.9,101.5 L349.1,98.9" stroke="#bdbdbd" stroke-width="1.1" stroke-linecap="round" opacity="0.36"/>
<path d="M355.3,98.6 L357.5,101.6" stroke="#3a3a3a" stroke-width="1.4" stroke-linecap="round" opacity="0.45"/>
<path d="M357.9,101.4 L359.1,98.8" stroke="#bdbdbd" stroke-width="1.1" stroke-linecap="round" opacity="0.36"/>
<path d="M365.3,98.5 L367.5,101.5" stroke="#3a3a3a" stroke-width="1.4" stroke-linecap="round" opacity="0.45"/>
<path d="M367.9,101.3 L369.1,98.7" stroke="#bdbdbd" stroke-width="1.1" stroke-linecap="round" opacity="0.36"/>
<path d="M375.3,98.3 L377.5,101.3" stroke="#3a3a3a" stroke-width="1.4" stroke-linecap="round" opacity="0.45"/>
<path d="M377.9,101.1 L379.1,98.5" stroke="#bdbdbd" stroke-width="1.1" stroke-linecap="round" opacity="0.36"/>
<path d="M385.3,98.2 L387.5,101.2" stroke="#3a3a3a" stroke-width="1.4" stroke-linecap="round" opacity="0.45"/>
<path d="M387.9,101.0 L389.1,98.4" stroke="#bdbdbd" stroke-width="1.1" stroke-linecap="round" opacity="0.36"/>
<path d="M395.3,98.0 L397.5,101.0" stroke="#3a3a3a" stroke-width="1.4" stroke-linecap="round" opacity="0.45"/>
<path d="M397.9,100.8 L399.1,98.2" stroke="#bdbdbd" stroke-width="1.1" stroke-linecap="round" opacity="0.36"/>
<path d="M405.3,97.9 L407.5,100.9" stroke="#3a3a3a" stroke-width="1.4" stroke-linecap="round" opacity="0.45"/>
<path d="M407.9,100.7 L409.1,98.1" stroke="#bdbdbd" stroke-width="1.1" stroke-linecap="round" opacity="0.36"/>
<path d="M415.3,97.8 L417.5,100.8" stroke="#3a3a3a" stroke-width="1.4" stroke-linecap="round" opacity="0.45"/>
<path d="M417.9,100.6 L419.1,98.0" stroke="#bdbdbd" stroke-width="1.1" stroke-linecap="round" opacity="0.36"/>
<path d="M425.3,97.6 L427.5,100.6" stroke="#3a3a3a" stroke-width="1.4" stroke-linecap="round" opacity="0.45"/>
<path d="M427.9,100.4 L429.1,97.8" stroke="#bdbdbd" stroke-width="1.1" stroke-linecap="round" opacity="0.36"/>
<path d="M435.3,97.5 L437.5,100.5" stroke="#3a3a3a" stroke-width="1.4" stroke-linecap="round" opacity="0.45"/>
<path d="M437.9,100.3 L439.1,97.7" stroke="#bdbdbd" stroke-width="1.1" stroke-linecap="round" opacity="0.36"/>
<path d="M445.3,97.3 L447.5,100.3" stroke="#3a3a3a" stroke-width="1.4" stroke-linecap="round" opacity="0.45"/>
<path d="M447.9,100.1 L449.1,97.5" stroke="#bdbdbd" stroke-width="1.1" stroke-linecap="round" opacity="0.36"/>
<path d="M205.3,111.0 L207.5,114.0" stroke="#3a3a3a" stroke-width="1.4" stroke-linecap="round" opacity="0.45"/>
<path d="M207.9,113.8 L209.1,111.2" stroke="#bdbdbd" stroke-width="1.1" stroke-linecap="round" opacity="0.36"/>
<path d="M215.3,110.9 L217.5,113.9" stroke="#3a3a3a" stroke-width="1.4" stroke-linecap="round" opacity="0.45"/>
<path d="M217.9,113.7 L219.1,111.1" stroke="#bdbdbd" stroke-width="1.1" stroke-linecap="round" opacity="0.36"/>
<path d="M225.3,110.7 L227.5,113.7" stroke="#3a3a3a" stroke-width="1.4" stroke-linecap="round" opacity="0.45"/>
<path d="M227.9,113.5 L229.1,110.9" stroke="#bdbdbd" stroke-width="1.1" stroke-linecap="round" opacity="0.36"/>
<path d="M235.3,110.6 L237.5,113.6" stroke="#3a3a3a" stroke-width="1.4" stroke-linecap="round" opacity="0.45"/>
<path d="M237.9,113.4 L239.1,110.8" stroke="#bdbdbd" stroke-width="1.1" stroke-linecap="round" opacity="0.36"/>
<path d="M245.3,110.4 L247.5,113.4" stroke="#3a3a3a" stroke-width="1.4" stroke-linecap="round" opacity="0.45"/>
<path d="M247.9,113.2 L249.1,110.6" stroke="#bdbdbd" stroke-width="1.1" stroke-linecap="round" opacity="0.36"/>
<path d="M255.3,110.3 L257.5,113.3" stroke="#3a3a3a" stroke-width="1.4" stroke-linecap="round" opacity="0.45"/>
<path d="M257.9,113.1 L259.1,110.5" stroke="#bdbdbd" stroke-width="1.1" stroke-linecap="round" opacity="0.36"/>
<path d="M265.3,110.2 L267.5,113.2" stroke="#3a3a3a" stroke-width="1.4" stroke-linecap="round" opacity="0.45"/>
<path d="M267.9,113.0 L269.1,110.4" stroke="#bdbdbd" stroke-width="1.1" stroke-linecap="round" opacity="0.36"/>
<path d="M275.3,110.0 L277.5,113.0" stroke="#3a3a3a" stroke-width="1.4" stroke-linecap="round" opacity="0.45"/>
<path d="M277.9,112.8 L279.1,110.2" stroke="#bdbdbd" stroke-width="1.1" stroke-linecap="round" opacity="0.36"/>
<path d="M285.3,109.9 L287.5,112.9" stroke="#3a3a3a" stroke-width="1.4" stroke-linecap="round" opacity="0.45"/>
<path d="M287.9,112.7 L289.1,110.1" stroke="#bdbdbd" stroke-width="1.1" stroke-linecap="round" opacity="0.36"/>
<path d="M295.3,109.7 L297.5,112.7" stroke="#3a3a3a" stroke-width="1.4" stroke-linecap="round" opacity="0.45"/>
<path d="M297.9,112.5 L299.1,109.9" stroke="#bdbdbd" stroke-width="1.1" stroke-linecap="round" opacity="0.36"/>
<path d="M305.3,109.6 L307.5,112.6" stroke="#3a3a3a" stroke-width="1.4" stroke-linecap="round" opacity="0.45"/>
<path d="M307.9,112.4 L309.1,109.8" stroke="#bdbdbd" stroke-width="1.1" stroke-linecap="round" opacity="0.36"/>
<path d="M315.3,109.5 L317.5,112.5" stroke="#3a3a3a" stroke-width="1.4" stroke-linecap="round" opacity="0.45"/>
<path d="M317.9,112.3 L319.1,109.7" stroke="#bdbdbd" stroke-width="1.1" stroke-linecap="round" opacity="0.36"/>
<path d="M325.3,109.3 L327.5,112.3" stroke="#3a3a3a" stroke-width="1.4" stroke-linecap="round" opacity="0.45"/>
<path d="M327.9,112.1 L329.1,109.5" stroke="#bdbdbd" stroke-width="1.1" stroke-linecap="round" opacity="0.36"/>
<path d="M335.3,109.2 L337.5,112.2" stroke="#3a3a3a" stroke-width="1.4" stroke-linecap="round" opacity="0.45"/>
<path d="M337.9,112.0 L339.1,109.4" stroke="#bdbdbd" stroke-width="1.1" stroke-linecap="round" opacity="0.36"/>
<path d="M345.3,109.0 L347.5,112.0" stroke="#3a3a3a" stroke-width="1.4" stroke-linecap="round" opacity="0.45"/>
<path d="M347.9,111.8 L349.1,109.2" stroke="#bdbdbd" stroke-width="1.1" stroke-linecap="round" opacity="0.36"/>
<path d="M355.3,108.9 L357.5,111.9" stroke="#3a3a3a" stroke-width="1.4" stroke-linecap="round" opacity="0.45"/>
<path d="M357.9,111.7 L359.1,109.1" stroke="#bdbdbd" stroke-width="1.1" stroke-linecap="round" opacity="0.36"/>
<path d="M365.3,108.8 L367.5,111.8" stroke="#3a3a3a" stroke-width="1.4" stroke-linecap="round" opacity="0.45"/>
<path d="M367.9,111.6 L369.1,109.0" stroke="#bdbdbd" stroke-width="1.1" stroke-linecap="round" opacity="0.36"/>
<path d="M375.3,108.6 L377.5,111.6" stroke="#3a3a3a" stroke-width="1.4" stroke-linecap="round" opacity="0.45"/>
<path d="M377.9,111.4 L379.1,108.8" stroke="#bdbdbd" stroke-width="1.1" stroke-linecap="round" opacity="0.36"/>
<path d="M385.3,108.5 L387.5,111.5" stroke="#3a3a3a" stroke-width="1.4" stroke-linecap="round" opacity="0.45"/>
<path d="M387.9,111.3 L389.1,108.7" stroke="#bdbdbd" stroke-width="1.1" stroke-linecap="round" opacity="0.36"/>
<path d="M395.3,108.3 L397.5,111.3" stroke="#3a3a3a" stroke-width="1.4" stroke-linecap="round" opacity="0.45"/>
<path d="M397.9,111.1 L399.1,108.5" stroke="#bdbdbd" stroke-width="1.1" stroke-linecap="round" opacity="0.36"/>
<path d="M405.3,108.2 L407.5,111.2" stroke="#3a3a3a" stroke-width="1.4" stroke-linecap="round" opacity="0.45"/>
<path d="M407.9,111.0 L409.1,108.4" stroke="#bdbdbd" stroke-width="1.1" stroke-linecap="round" opacity="0.36"/>
<path d="M415.3,108.1 L417.5,111.1" stroke="#3a3a3a" stroke-width="1.4" stroke-linecap="round" opacity="0.45"/>
<path d="M417.9,110.9 L419.1,108.3" stroke="#bdbdbd" stroke-width="1.1" stroke-linecap="round" opacity="0.36"/>
<path d="M425.3,107.9 L427.5,110.9" stroke="#3a3a3a" stroke-width="1.4" stroke-linecap="round" opacity="0.45"/>
<path d="M427.9,110.7 L429.1,108.1" stroke="#bdbdbd" stroke-width="1.1" stroke-linecap="round" opacity="0.36"/>
<path d="M435.3,107.8 L437.5,110.8" stroke="#3a3a3a" stroke-width="1.4" stroke-linecap="round" opacity="0.45"/>
<path d="M437.9,110.6 L439.1,108.0" stroke="#bdbdbd" stroke-width="1.1" stroke-linecap="round" opacity="0.36"/>
<path d="M445.3,107.6 L447.5,110.6" stroke="#3a3a3a" stroke-width="1.4" stroke-linecap="round" opacity="0.45"/>
<path d="M447.9,110.4 L449.1,107.8" stroke="#bdbdbd" stroke-width="1.1" stroke-linecap="round" opacity="0.36"/>
<circle cx="488.3" cy="65.7" r="1.8" fill="#7a7a7a" opacity="0.17"/>
<circle cx="489.0" cy="64.9" r="1.5" fill="#cfcfcf" opacity="0.33"/>
<circle cx="498.5" cy="65.7" r="1.8" fill="#7a7a7a" opacity="0.17"/>
<circle cx="499.2" cy="64.9" r="1.5" fill="#cfcfcf" opacity="0.33"/>
<circle cx="508.7" cy="65.7" r="1.8" fill="#7a7a7a" opacity="0.17"/>
<circle cx="509.4" cy="64.9" r="1.5" fill="#cfcfcf" opacity="0.33"/>
<circle cx="518.9" cy="65.7" r="1.8" fill="#7a7a7a" opacity="0.17"/>
<circle cx="519.6" cy="64.9" r="1.5" fill="#cfcfcf" opacity="0.33"/>
<circle cx="529.1" cy="65.7" r="1.8" fill="#7a7a7a" opacity="0.17"/>
<circle cx="529.8" cy="64.9" r="1.5" fill="#cfcfcf" opacity="0.33"/>
<circle cx="539.3" cy="65.7" r="1.8" fill="#7a7a7a" opacity="0.17"/>
<circle cx="540.0" cy="64.9" r="1.5" fill="#cfcfcf" opacity="0.33"/>
<circle cx="549.5" cy="65.7" r="1.8" fill="#7a7a7a" opacity="0.17"/>
<circle cx="550.2" cy="64.9" r="1.5" fill="#cfcfcf" opacity="0.33"/>
<circle cx="559.7" cy="65.7" r="1.8" fill="#7a7a7a" opacity="0.17"/>
<circle cx="560.4" cy="64.9" r="1.5" fill="#cfcfcf" opacity="0.33"/>
<circle cx="569.9" cy="65.7" r="1.8" fill="#7a7a7a" opacity="0.17"/>
<circle cx="570.6" cy="64.9" r="1.5" fill="#cfcfcf" opacity="0.33"/>
<circle cx="580.1" cy="65.7" r="1.8" fill="#7a7a7a" opacity="0.17"/>
<circle cx="580.8" cy="64.9" r="1.5" fill="#cfcfcf" opacity="0.33"/>
<circle cx="590.3" cy="65.7" r="1.8" fill="#7a7a7a" opacity="0.17"/>
<circle cx="591.0" cy="64.9" r="1.5" fill="#cfcfcf" opacity="0.33"/>
<circle cx="488.3" cy="75.5" r="1.8" fill="#7a7a7a" opacity="0.17"/>
<circle cx="489.0" cy="74.7" r="1.5" fill="#cfcfcf" opacity="0.33"/>
<circle cx="498.5" cy="75.5" r="1.8" fill="#7a7a7a" opacity="0.17"/>
<circle cx="499.2" cy="74.7" r="1.5" fill="#cfcfcf" opacity="0.33"/>
<circle cx="508.7" cy="75.5" r="1.8" fill="#7a7a7a" opacity="0.17"/>
<circle cx="509.4" cy="74.7" r="1.5" fill="#cfcfcf" opacity="0.33"/>
<circle cx="518.9" cy="75.5" r="1.8" fill="#7a7a7a" opacity="0.17"/>
<circle cx="519.6" cy="74.7" r="1.5" fill="#cfcfcf" opacity="0.33"/>
<circle cx="529.1" cy="75.5" r="1.8" fill="#7a7a7a" opacity="0.17"/>
<circle cx="529.8" cy="74.7" r="1.5" fill="#cfcfcf" opacity="0.33"/>
<circle cx="539.3" cy="75.5" r="1.8" fill="#7a7a7a" opacity="0.17"/>
<circle cx="540.0" cy="74.7" r="1.5" fill="#cfcfcf" opacity="0.33"/>
<circle cx="549.5" cy="75.5" r="1.8" fill="#7a7a7a" opacity="0.17"/>
<circle cx="550.2" cy="74.7" r="1.5" fill="#cfcfcf" opacity="0.33"/>
<circle cx="559.7" cy="75.5" r="1.8" fill="#7a7a7a" opacity="0.17"/>
<circle cx="560.4" cy="74.7" r="1.5" fill="#cfcfcf" opacity="0.33"/>
<circle cx="569.9" cy="75.5" r="1.8" fill="#7a7a7a" opacity="0.17"/>
<circle cx="570.6" cy="74.7" r="1.5" fill="#cfcfcf" opacity="0.33"/>
<circle cx="580.1" cy="75.5" r="1.8" fill="#7a7a7a" opacity="0.17"/>
<circle cx="580.8" cy="74.7" r="1.5" fill="#cfcfcf" opacity="0.33"/>
<circle cx="590.3" cy="75.5" r="1.8" fill="#7a7a7a" opacity="0.17"/>
<circle cx="591.0" cy="74.7" r="1.5" fill="#cfcfcf" opacity="0.33"/>
<circle cx="488.3" cy="85.4" r="1.8" fill="#7a7a7a" opacity="0.17"/>
<circle cx="489.0" cy="84.6" r="1.5" fill="#cfcfcf" opacity="0.33"/>
<circle cx="498.5" cy="85.4" r="1.8" fill="#7a7a7a" opacity="0.17"/>
<circle cx="499.2" cy="84.6" r="1.5" fill="#cfcfcf" opacity="0.33"/>
<circle cx="508.7" cy="85.4" r="1.8" fill="#7a7a7a" opacity="0.17"/>
<circle cx="509.4" cy="84.6" r="1.5" fill="#cfcfcf" opacity="0.33"/>
<circle cx="518.9" cy="85.4" r="1.8" fill="#7a7a7a" opacity="0.17"/>
<circle cx="519.6" cy="84.6" r="1.5" fill="#cfcfcf" opacity="0.33"/>
<circle cx="529.1" cy="85.4" r="1.8" fill="#7a7a7a" opacity="0.17"/>
<circle cx="529.8" cy="84.6" r="1.5" fill="#cfcfcf" opacity="0.33"/>
<circle cx="539.3" cy="85.4" r="1.8" fill="#7a7a7a" opacity="0.17"/>
<circle cx="540.0" cy="84.6" r="1.5" fill="#cfcfcf" opacity="0.33"/>
<circle cx="549.5" cy="85.4" r="1.8" fill="#7a7a7a" opacity="0.17"/>
<circle cx="550.2" cy="84.6" r="1.5" fill="#cfcfcf" opacity="0.33"/>
<circle cx="559.7" cy="85.4" r="1.8" fill="#7a7a7a" opacity="0.17"/>
<circle cx="560.4" cy="84.6" r="1.5" fill="#cfcfcf" opacity="0.33"/>
<circle cx="569.9" cy="85.4" r="1.8" fill="#7a7a7a" opacity="0.17"/>
<circle cx="570.6" cy="84.6" r="1.5" fill="#cfcfcf" opacity="0.33"/>
<circle cx="580.1" cy="85.4" r="1.8" fill="#7a7a7a" opacity="0.17"/>
<circle cx="580.8" cy="84.6" r="1.5" fill="#cfcfcf" opacity="0.33"/>
<circle cx="590.3" cy="85.4" r="1.8" fill="#7a7a7a" opacity="0.17"/>
<circle cx="591.0" cy="84.6" r="1.5" fill="#cfcfcf" opacity="0.33"/>
<circle cx="488.3" cy="96.0" r="1.8" fill="#7a7a7a" opacity="0.17"/>
<circle cx="489.0" cy="95.2" r="1.5" fill="#cfcfcf" opacity="0.33"/>
<circle cx="498.5" cy="96.0" r="1.8" fill="#7a7a7a" opacity="0.17"/>
<circle cx="499.2" cy="95.2" r="1.5" fill="#cfcfcf" opacity="0.33"/>
<circle cx="508.7" cy="96.0" r="1.8" fill="#7a7a7a" opacity="0.17"/>
<circle cx="509.4" cy="95.2" r="1.5" fill="#cfcfcf" opacity="0.33"/>
<circle cx="518.9" cy="96.0" r="1.8" fill="#7a7a7a" opacity="0.17"/>
<circle cx="519.6" cy="95.2" r="1.5" fill="#cfcfcf" opacity="0.33"/>
<circle cx="529.1" cy="96.0" r="1.8" fill="#7a7a7a" opacity="0.17"/>
<circle cx="529.8" cy="95.2" r="1.5" fill="#cfcfcf" opacity="0.33"/>
<circle cx="539.3" cy="96.0" r="1.8" fill="#7a7a7a" opacity="0.17"/>
<circle cx="540.0" cy="95.2" r="1.5" fill="#cfcfcf" opacity="0.33"/>
<circle cx="549.5" cy="96.0" r="1.8" fill="#7a7a7a" opacity="0.17"/>
<circle cx="550.2" cy="95.2" r="1.5" fill="#cfcfcf" opacity="0.33"/>
<circle cx="559.7" cy="96.0" r="1.8" fill="#7a7a7a" opacity="0.17"/>
<circle cx="560.4" cy="95.2" r="1.5" fill="#cfcfcf" opacity="0.33"/>
<circle cx="569.9" cy="96.0" r="1.8" fill="#7a7a7a" opacity="0.17"/>
<circle cx="570.6" cy="95.2" r="1.5" fill="#cfcfcf" opacity="0.33"/>
<circle cx="580.1" cy="96.0" r="1.8" fill="#7a7a7a" opacity="0.17"/>
<circle cx="580.8" cy="95.2" r="1.5" fill="#cfcfcf" opacity="0.33"/>
<circle cx="590.3" cy="96.0" r="1.8" fill="#7a7a7a" opacity="0.17"/>
<circle cx="591.0" cy="95.2" r="1.5" fill="#cfcfcf" opacity="0.33"/>
<circle cx="488.3" cy="106.6" r="1.8" fill="#7a7a7a" opacity="0.17"/>
<circle cx="489.0" cy="105.8" r="1.5" fill="#cfcfcf" opacity="0.33"/>
<circle cx="498.5" cy="106.6" r="1.8" fill="#7a7a7a" opacity="0.17"/>
<circle cx="499.2" cy="105.8" r="1.5" fill="#cfcfcf" opacity="0.33"/>
<circle cx="508.7" cy="106.6" r="1.8" fill="#7a7a7a" opacity="0.17"/>
<circle cx="509.4" cy="105.8" r="1.5" fill="#cfcfcf" opacity="0.33"/>
<circle cx="518.9" cy="106.6" r="1.8" fill="#7a7a7a" opacity="0.17"/>
<circle cx="519.6" cy="105.8" r="1.5" fill="#cfcfcf" opacity="0.33"/>
<circle cx="529.1" cy="106.6" r="1.8" fill="#7a7a7a" opacity="0.17"/>
<circle cx="529.8" cy="105.8" r="1.5" fill="#cfcfcf" opacity="0.33"/>
<circle cx="539.3" cy="106.6" r="1.8" fill="#7a7a7a" opacity="0.17"/>
<circle cx="540.0" cy="105.8" r="1.5" fill="#cfcfcf" opacity="0.33"/>
<circle cx="549.5" cy="106.6" r="1.8" fill="#7a7a7a" opacity="0.17"/>
<circle cx="550.2" cy="105.8" r="1.5" fill="#cfcfcf" opacity="0.33"/>
<circle cx="559.7" cy="106.6" r="1.8" fill="#7a7a7a" opacity="0.17"/>
<circle cx="560.4" cy="105.8" r="1.5" fill="#cfcfcf" opacity="0.33"/>
<circle cx="569.9" cy="106.6" r="1.8" fill="#7a7a7a" opacity="0.17"/>
<circle cx="570.6" cy="105.8" r="1.5" fill="#cfcfcf" opacity="0.33"/>
<circle cx="580.1" cy="106.6" r="1.8" fill="#7a7a7a" opacity="0.17"/>
<circle cx="580.8" cy="105.8" r="1.5" fill="#cfcfcf" opacity="0.33"/>
<circle cx="590.3" cy="106.6" r="1.8" fill="#7a7a7a" opacity="0.17"/>
<circle cx="591.0" cy="105.8" r="1.5" fill="#cfcfcf" opacity="0.33"/>
<circle cx="258.6" cy="69.7" r="0.8" fill="#444" opacity="0.22"/>
<circle cx="363.8" cy="87.7" r="0.5" fill="#444" opacity="0.35"/>
<circle cx="116.6" cy="93.4" r="0.5" fill="#444" opacity="0.23"/>
<circle cx="308.6" cy="126.5" r="0.6" fill="#444" opacity="0.27"/>
<circle cx="409.2" cy="136.6" r="0.8" fill="#444" opacity="0.32"/>
<circle cx="582.2" cy="60.9" r="0.9" fill="#444" opacity="0.29"/>
<circle cx="169.6" cy="66.9" r="0.7" fill="#444" opacity="0.44"/>
<circle cx="414.9" cy="88.3" r="0.8" fill="#444" opacity="0.22"/>
<circle cx="127.6" cy="74.3" r="0.8" fill="#444" opacity="0.33"/>
<circle cx="253.8" cy="106.2" r="0.7" fill="#444" opacity="0.29"/>
<circle cx="492.0" cy="115.7" r="0.6" fill="#444" opacity="0.37"/>
<circle cx="358.5" cy="130.5" r="0.9" fill="#444" opacity="0.29"/>
<circle cx="584.2" cy="66.9" r="0.7" fill="#444" opacity="0.43"/>
<circle cx="173.4" cy="98.1" r="0.5" fill="#444" opacity="0.40"/>
<circle cx="532.2" cy="83.4" r="0.8" fill="#444" opacity="0.38"/>
<circle cx="385.6" cy="95.3" r="0.9" fill="#444" opacity="0.48"/>
<circle cx="333.2" cy="112.8" r="0.5" fill="#444" opacity="0.41"/>
<circle cx="419.0" cy="140.4" r="0.9" fill="#444" opacity="0.29"/>
<circle cx="289.4" cy="113.2" r="0.5" fill="#444" opacity="0.34"/>
<circle cx="181.4" cy="66.8" r="0.5" fill="#444" opacity="0.43"/>
<circle cx="162.2" cy="77.8" r="0.7" fill="#444" opacity="0.46"/>
<circle cx="138.0" cy="94.7" r="0.8" fill="#444" opacity="0.47"/>
<circle cx="504.4" cy="129.6" r="0.6" fill="#444" opacity="0.32"/>
<circle cx="276.0" cy="131.3" r="1.0" fill="#444" opacity="0.25"/>
<circle cx="185.4" cy="76.5" r="0.6" fill="#444" opacity="0.35"/>
<circle cx="390.2" cy="79.1" r="0.5" fill="#444" opacity="0.33"/>
<circle cx="281.1" cy="104.6" r="1.0" fill="#444" opacity="0.41"/>
<circle cx="353.7" cy="108.9" r="0.8" fill="#444" opacity="0.22"/>
<circle cx="544.2" cy="122.5" r="0.9" fill="#444" opacity="0.44"/>
<circle cx="292.6" cy="90.5" r="0.6" fill="#444" opacity="0.39"/>
<circle cx="128.9" cy="62.7" r="0.6" fill="#444" opacity="0.25"/>
<circle cx="266.7" cy="61.4" r="0.5" fill="#444" opacity="0.25"/>
<circle cx="148.3" cy="87.5" r="0.5" fill="#444" opacity="0.46"/>
<circle cx="402.6" cy="69.5" r="0.6" fill="#444" opacity="0.30"/>
<circle cx="278.6" cy="67.3" r="0.9" fill="#444" opacity="0.50"/>
<circle cx="329.1" cy="97.6" r="0.5" fill="#444" opacity="0.23"/>
<circle cx="267.9" cy="79.2" r="0.9" fill="#444" opacity="0.25"/>
<circle cx="109.5" cy="136.9" r="0.8" fill="#444" opacity="0.24"/>
</g>
<rect x="187.5" y="56" width="8.2" height="86" fill="#080808"/>
<defs><linearGradient id="gbar" x1="0" x2="1" y1="0" y2="0"><stop offset="0" stop-color="#1e1e1e"/><stop offset="0.6" stop-color="#4a4a4a"/><stop offset="1" stop-color="#707070"/></linearGradient></defs>
<rect x="195.5" y="56" width="5" height="86" fill="url(#gbar)"/>
<path d="M199.5,57 L199,66 L200,75 L199.2,88 L200,100 L199.3,115 L200,130 L199.5,141" stroke="#b0b0b0" stroke-width="0.7" fill="none" opacity="0.3" filter="url(#bl3)"/>
<rect x="186.2" y="56" width="1.5" height="86" fill="#555" opacity="0.5"/>
<polygon points="457.5,56.0 458.5,70.0 457.8,85.0 458.2,100.0 458.8,120.0 459.2,142.0 480.5,142.0 479.5,128.0 478.0,118.0 476.9,108.0 476.6,96.0 476.9,86.0 477.6,76.0 479.4,66.0 480.5,56.0" fill="url(#gd)"/>
<g filter="url(#bl3)">
<circle cx="459.0" cy="102.7" r="0.8" fill="rgb(58,58,58)" opacity="0.55"/>
<circle cx="464.7" cy="78.7" r="0.7" fill="rgb(35,35,35)" opacity="0.55"/>
<circle cx="464.1" cy="122.7" r="0.9" fill="rgb(39,39,39)" opacity="0.55"/>
<circle cx="471.1" cy="126.1" r="0.6" fill="rgb(95,95,95)" opacity="0.55"/>
<circle cx="459.0" cy="59.0" r="0.5" fill="rgb(130,130,130)" opacity="0.55"/>
<circle cx="464.4" cy="107.9" r="0.5" fill="rgb(47,47,47)" opacity="0.55"/>
<circle cx="461.8" cy="75.8" r="0.7" fill="rgb(38,38,38)" opacity="0.55"/>
<circle cx="472.1" cy="112.0" r="0.9" fill="rgb(85,85,85)" opacity="0.55"/>
<circle cx="466.6" cy="120.3" r="0.5" fill="rgb(125,125,125)" opacity="0.55"/>
<circle cx="470.8" cy="136.9" r="0.8" fill="rgb(54,54,54)" opacity="0.55"/>
<circle cx="460.7" cy="71.0" r="0.9" fill="rgb(145,145,145)" opacity="0.55"/>
<circle cx="472.6" cy="68.9" r="0.7" fill="rgb(55,55,55)" opacity="0.55"/>
<circle cx="458.7" cy="67.6" r="0.7" fill="rgb(66,66,66)" opacity="0.55"/>
<circle cx="472.5" cy="130.6" r="0.5" fill="rgb(73,73,73)" opacity="0.55"/>
<circle cx="471.5" cy="99.1" r="0.9" fill="rgb(103,103,103)" opacity="0.55"/>
<circle cx="471.1" cy="61.7" r="0.9" fill="rgb(144,144,144)" opacity="0.55"/>
<circle cx="460.7" cy="131.1" r="0.9" fill="rgb(34,34,34)" opacity="0.55"/>
<circle cx="468.8" cy="122.5" r="0.7" fill="rgb(34,34,34)" opacity="0.55"/>
<circle cx="468.0" cy="118.1" r="0.9" fill="rgb(136,136,136)" opacity="0.55"/>
<circle cx="468.0" cy="65.5" r="0.4" fill="rgb(94,94,94)" opacity="0.55"/>
<circle cx="466.2" cy="64.8" r="0.6" fill="rgb(78,78,78)" opacity="0.55"/>
<circle cx="468.8" cy="139.2" r="0.7" fill="rgb(105,105,105)" opacity="0.55"/>
<circle cx="467.1" cy="125.1" r="1.0" fill="rgb(136,136,136)" opacity="0.55"/>
<circle cx="461.9" cy="132.4" r="0.5" fill="rgb(87,87,87)" opacity="0.55"/>
<circle cx="459.7" cy="94.1" r="0.5" fill="rgb(40,40,40)" opacity="0.55"/>
<circle cx="460.6" cy="82.2" r="0.6" fill="rgb(34,34,34)" opacity="0.55"/>
<circle cx="466.5" cy="68.2" r="0.5" fill="rgb(120,120,120)" opacity="0.55"/>
<circle cx="462.3" cy="113.3" r="0.6" fill="rgb(125,125,125)" opacity="0.55"/>
<circle cx="463.9" cy="73.1" r="0.7" fill="rgb(72,72,72)" opacity="0.55"/>
<circle cx="458.8" cy="93.9" r="0.7" fill="rgb(136,136,136)" opacity="0.55"/>
<circle cx="475.2" cy="62.0" r="0.6" fill="rgb(39,39,39)" opacity="0.55"/>
<circle cx="471.7" cy="59.9" r="0.9" fill="rgb(86,86,86)" opacity="0.55"/>
<circle cx="474.6" cy="114.0" r="0.8" fill="rgb(89,89,89)" opacity="0.55"/>
<circle cx="459.5" cy="64.1" r="0.9" fill="rgb(93,93,93)" opacity="0.55"/>
<circle cx="458.8" cy="79.4" r="0.8" fill="rgb(30,30,30)" opacity="0.55"/>
<circle cx="463.0" cy="75.4" r="0.6" fill="rgb(32,32,32)" opacity="0.55"/>
<circle cx="474.3" cy="103.5" r="0.4" fill="rgb(42,42,42)" opacity="0.55"/>
<circle cx="474.4" cy="116.8" r="0.5" fill="rgb(35,35,35)" opacity="0.55"/>
<circle cx="469.2" cy="135.7" r="0.7" fill="rgb(96,96,96)" opacity="0.55"/>
<circle cx="463.1" cy="113.6" r="0.4" fill="rgb(26,26,26)" opacity="0.55"/>
<circle cx="467.9" cy="118.8" r="0.5" fill="rgb(135,135,135)" opacity="0.55"/>
<circle cx="469.7" cy="94.5" r="0.7" fill="rgb(125,125,125)" opacity="0.55"/>
<circle cx="475.0" cy="132.0" r="0.6" fill="rgb(44,44,44)" opacity="0.55"/>
<circle cx="470.5" cy="127.2" r="1.0" fill="rgb(87,87,87)" opacity="0.55"/>
<circle cx="472.7" cy="140.0" r="0.7" fill="rgb(79,79,79)" opacity="0.55"/>
<circle cx="469.8" cy="61.2" r="0.8" fill="rgb(134,134,134)" opacity="0.55"/>
<circle cx="459.3" cy="115.4" r="0.7" fill="rgb(90,90,90)" opacity="0.55"/>
<circle cx="474.9" cy="78.9" r="0.4" fill="rgb(60,60,60)" opacity="0.55"/>
<circle cx="462.2" cy="131.5" r="0.6" fill="rgb(70,70,70)" opacity="0.55"/>
<circle cx="467.0" cy="96.8" r="0.5" fill="rgb(37,37,37)" opacity="0.55"/>
<circle cx="460.9" cy="125.9" r="0.4" fill="rgb(75,75,75)" opacity="0.55"/>
<circle cx="462.5" cy="82.4" r="0.8" fill="rgb(62,62,62)" opacity="0.55"/>
<circle cx="473.4" cy="117.4" r="0.5" fill="rgb(111,111,111)" opacity="0.55"/>
<circle cx="469.4" cy="118.1" r="0.8" fill="rgb(135,135,135)" opacity="0.55"/>
<circle cx="460.9" cy="125.5" r="0.9" fill="rgb(58,58,58)" opacity="0.55"/>
<circle cx="473.7" cy="106.1" r="0.4" fill="rgb(68,68,68)" opacity="0.55"/>
<circle cx="464.6" cy="67.8" r="0.7" fill="rgb(118,118,118)" opacity="0.55"/>
<circle cx="469.1" cy="109.9" r="0.6" fill="rgb(101,101,101)" opacity="0.55"/>
<circle cx="459.7" cy="95.3" r="0.8" fill="rgb(57,57,57)" opacity="0.55"/>
<circle cx="471.0" cy="62.1" r="0.5" fill="rgb(79,79,79)" opacity="0.55"/>
<circle cx="462.4" cy="120.8" r="0.9" fill="rgb(128,128,128)" opacity="0.55"/>
<circle cx="474.0" cy="63.0" r="0.4" fill="rgb(43,43,43)" opacity="0.55"/>
<circle cx="462.8" cy="69.0" r="0.4" fill="rgb(69,69,69)" opacity="0.55"/>
<circle cx="463.1" cy="61.7" r="0.8" fill="rgb(68,68,68)" opacity="0.55"/>
<circle cx="467.3" cy="81.2" r="0.9" fill="rgb(129,129,129)" opacity="0.55"/>
<circle cx="467.8" cy="140.9" r="0.4" fill="rgb(80,80,80)" opacity="0.55"/>
<circle cx="472.4" cy="95.5" r="0.5" fill="rgb(104,104,104)" opacity="0.55"/>
<circle cx="462.1" cy="136.9" r="0.8" fill="rgb(62,62,62)" opacity="0.55"/>
<circle cx="464.6" cy="78.8" r="0.9" fill="rgb(150,150,150)" opacity="0.55"/>
<circle cx="462.4" cy="116.3" r="0.5" fill="rgb(56,56,56)" opacity="0.55"/>
<circle cx="470.1" cy="137.2" r="0.6" fill="rgb(50,50,50)" opacity="0.55"/>
<circle cx="460.6" cy="88.5" r="0.9" fill="rgb(70,70,70)" opacity="0.55"/>
<circle cx="460.5" cy="127.8" r="0.6" fill="rgb(71,71,71)" opacity="0.55"/>
<circle cx="465.1" cy="62.0" r="1.0" fill="rgb(79,79,79)" opacity="0.55"/>
<circle cx="473.0" cy="120.7" r="0.9" fill="rgb(42,42,42)" opacity="0.55"/>
<circle cx="474.4" cy="80.8" r="0.7" fill="rgb(104,104,104)" opacity="0.55"/>
<circle cx="464.8" cy="72.6" r="0.9" fill="rgb(73,73,73)" opacity="0.55"/>
<circle cx="467.8" cy="136.5" r="0.7" fill="rgb(76,76,76)" opacity="0.55"/>
<circle cx="469.5" cy="120.5" r="0.9" fill="rgb(43,43,43)" opacity="0.55"/>
<circle cx="461.4" cy="103.3" r="0.6" fill="rgb(113,113,113)" opacity="0.55"/>
<circle cx="475.1" cy="119.3" r="0.6" fill="rgb(41,41,41)" opacity="0.55"/>
<circle cx="465.2" cy="103.9" r="0.5" fill="rgb(35,35,35)" opacity="0.55"/>
<circle cx="467.0" cy="133.5" r="1.0" fill="rgb(127,127,127)" opacity="0.55"/>
<circle cx="460.9" cy="94.7" r="0.5" fill="rgb(37,37,37)" opacity="0.55"/>
<circle cx="463.9" cy="103.7" r="0.9" fill="rgb(48,48,48)" opacity="0.55"/>
<circle cx="465.5" cy="120.2" r="0.6" fill="rgb(51,51,51)" opacity="0.55"/>
<circle cx="459.6" cy="85.2" r="0.5" fill="rgb(143,143,143)" opacity="0.55"/>
<circle cx="469.2" cy="99.3" r="0.9" fill="rgb(81,81,81)" opacity="0.55"/>
<circle cx="469.5" cy="89.2" r="0.5" fill="rgb(52,52,52)" opacity="0.55"/>
<circle cx="471.5" cy="92.6" r="0.4" fill="rgb(145,145,145)" opacity="0.55"/>
<circle cx="474.3" cy="89.8" r="0.5" fill="rgb(129,129,129)" opacity="0.55"/>
<circle cx="461.1" cy="65.8" r="0.5" fill="rgb(83,83,83)" opacity="0.55"/>
<circle cx="458.5" cy="122.5" r="0.8" fill="rgb(33,33,33)" opacity="0.55"/>
<circle cx="460.7" cy="82.3" r="0.8" fill="rgb(137,137,137)" opacity="0.55"/>
<circle cx="459.7" cy="66.0" r="0.6" fill="rgb(58,58,58)" opacity="0.55"/>
<circle cx="468.7" cy="75.5" r="1.0" fill="rgb(138,138,138)" opacity="0.55"/>
<circle cx="463.9" cy="80.2" r="0.7" fill="rgb(40,40,40)" opacity="0.55"/>
<circle cx="465.5" cy="59.0" r="0.4" fill="rgb(66,66,66)" opacity="0.55"/>
<circle cx="470.0" cy="98.9" r="0.5" fill="rgb(80,80,80)" opacity="0.55"/>
<circle cx="464.8" cy="92.6" r="0.8" fill="rgb(74,74,74)" opacity="0.55"/>
<circle cx="465.2" cy="87.3" r="0.5" fill="rgb(25,25,25)" opacity="0.55"/>
<circle cx="463.8" cy="138.9" r="0.5" fill="rgb(99,99,99)" opacity="0.55"/>
<circle cx="463.5" cy="121.1" r="0.9" fill="rgb(64,64,64)" opacity="0.55"/>
<circle cx="474.0" cy="97.7" r="1.0" fill="rgb(28,28,28)" opacity="0.55"/>
<circle cx="458.9" cy="61.1" r="0.4" fill="rgb(88,88,88)" opacity="0.55"/>
<circle cx="465.2" cy="61.6" r="1.0" fill="rgb(70,70,70)" opacity="0.55"/>
<circle cx="464.1" cy="135.7" r="0.4" fill="rgb(137,137,137)" opacity="0.55"/>
<circle cx="464.9" cy="113.0" r="0.5" fill="rgb(112,112,112)" opacity="0.55"/>
<circle cx="463.3" cy="56.7" r="0.7" fill="rgb(47,47,47)" opacity="0.55"/>
<circle cx="465.0" cy="121.0" r="0.4" fill="rgb(44,44,44)" opacity="0.55"/>
<circle cx="464.8" cy="96.7" r="0.6" fill="rgb(94,94,94)" opacity="0.55"/>
<circle cx="459.0" cy="132.7" r="0.4" fill="rgb(101,101,101)" opacity="0.55"/>
<circle cx="459.6" cy="59.5" r="0.8" fill="rgb(28,28,28)" opacity="0.55"/>
<circle cx="464.3" cy="132.9" r="0.6" fill="rgb(42,42,42)" opacity="0.55"/>
<circle cx="463.9" cy="117.4" r="0.8" fill="rgb(42,42,42)" opacity="0.55"/>
<circle cx="472.2" cy="107.1" r="0.5" fill="rgb(29,29,29)" opacity="0.55"/>
<circle cx="466.4" cy="117.3" r="0.9" fill="rgb(102,102,102)" opacity="0.55"/>
<circle cx="466.9" cy="67.8" r="0.8" fill="rgb(25,25,25)" opacity="0.55"/>
<circle cx="463.9" cy="84.4" r="0.7" fill="rgb(48,48,48)" opacity="0.55"/>
<circle cx="461.2" cy="89.8" r="0.7" fill="rgb(51,51,51)" opacity="0.55"/>
<circle cx="461.2" cy="102.8" r="0.6" fill="rgb(52,52,52)" opacity="0.55"/>
<circle cx="460.1" cy="63.6" r="0.5" fill="rgb(56,56,56)" opacity="0.55"/>
<circle cx="469.0" cy="91.9" r="0.9" fill="rgb(68,68,68)" opacity="0.55"/>
<circle cx="463.2" cy="81.5" r="0.8" fill="rgb(117,117,117)" opacity="0.55"/>
<circle cx="462.7" cy="73.4" r="0.6" fill="rgb(40,40,40)" opacity="0.55"/>
<circle cx="461.7" cy="133.6" r="1.0" fill="rgb(120,120,120)" opacity="0.55"/>
<circle cx="462.4" cy="99.6" r="0.5" fill="rgb(31,31,31)" opacity="0.55"/>
<circle cx="472.4" cy="96.9" r="0.9" fill="rgb(53,53,53)" opacity="0.55"/>
<circle cx="459.4" cy="76.3" r="1.0" fill="rgb(63,63,63)" opacity="0.55"/>
<circle cx="473.2" cy="88.1" r="0.9" fill="rgb(147,147,147)" opacity="0.55"/>
<circle cx="458.6" cy="113.0" r="0.5" fill="rgb(146,146,146)" opacity="0.55"/>
<circle cx="460.9" cy="87.8" r="0.8" fill="rgb(38,38,38)" opacity="0.55"/>
<circle cx="462.0" cy="111.9" r="0.8" fill="rgb(111,111,111)" opacity="0.55"/>
<circle cx="463.8" cy="72.2" r="0.7" fill="rgb(74,74,74)" opacity="0.55"/>
<circle cx="460.2" cy="61.9" r="0.8" fill="rgb(50,50,50)" opacity="0.55"/>
<circle cx="461.3" cy="64.2" r="1.0" fill="rgb(104,104,104)" opacity="0.55"/>
<circle cx="465.6" cy="113.3" r="0.6" fill="rgb(109,109,109)" opacity="0.55"/>
<circle cx="471.5" cy="58.0" r="0.8" fill="rgb(95,95,95)" opacity="0.55"/>
<circle cx="458.6" cy="73.8" r="0.9" fill="rgb(35,35,35)" opacity="0.55"/>
<circle cx="473.5" cy="91.0" r="0.4" fill="rgb(54,54,54)" opacity="0.55"/>
<circle cx="469.4" cy="103.4" r="0.8" fill="rgb(81,81,81)" opacity="0.55"/>
<circle cx="464.4" cy="71.1" r="1.0" fill="rgb(35,35,35)" opacity="0.55"/>
<circle cx="466.8" cy="65.7" r="0.9" fill="rgb(37,37,37)" opacity="0.55"/>
<circle cx="474.0" cy="60.2" r="0.5" fill="rgb(76,76,76)" opacity="0.55"/>
<circle cx="470.2" cy="117.0" r="0.8" fill="rgb(98,98,98)" opacity="0.55"/>
<circle cx="466.5" cy="73.2" r="0.6" fill="rgb(61,61,61)" opacity="0.55"/>
<circle cx="465.0" cy="100.5" r="1.0" fill="rgb(32,32,32)" opacity="0.55"/>
<circle cx="461.8" cy="125.8" r="0.5" fill="rgb(74,74,74)" opacity="0.55"/>
<circle cx="467.9" cy="107.5" r="0.6" fill="rgb(109,109,109)" opacity="0.55"/>
<circle cx="465.1" cy="77.7" r="0.5" fill="rgb(127,127,127)" opacity="0.55"/>
<circle cx="475.3" cy="56.8" r="0.9" fill="rgb(100,100,100)" opacity="0.55"/>
<circle cx="466.3" cy="122.8" r="0.5" fill="rgb(130,130,130)" opacity="0.55"/>
<circle cx="465.8" cy="67.4" r="0.4" fill="rgb(30,30,30)" opacity="0.55"/>
<circle cx="474.2" cy="67.6" r="0.4" fill="rgb(45,45,45)" opacity="0.55"/>
<circle cx="464.9" cy="99.3" r="1.0" fill="rgb(33,33,33)" opacity="0.55"/>
<circle cx="472.4" cy="118.7" r="0.6" fill="rgb(86,86,86)" opacity="0.55"/>
<circle cx="472.0" cy="125.4" r="0.9" fill="rgb(68,68,68)" opacity="0.55"/>
<circle cx="462.8" cy="108.4" r="0.9" fill="rgb(148,148,148)" opacity="0.55"/>
<circle cx="462.8" cy="95.3" r="0.8" fill="rgb(96,96,96)" opacity="0.55"/>
<circle cx="464.8" cy="76.7" r="0.5" fill="rgb(93,93,93)" opacity="0.55"/>
<circle cx="470.1" cy="136.1" r="0.5" fill="rgb(91,91,91)" opacity="0.55"/>
<circle cx="469.3" cy="101.6" r="0.6" fill="rgb(48,48,48)" opacity="0.55"/>
<circle cx="473.1" cy="102.0" r="1.0" fill="rgb(103,103,103)" opacity="0.55"/>
<circle cx="464.6" cy="105.6" r="0.5" fill="rgb(30,30,30)" opacity="0.55"/>
<circle cx="459.3" cy="119.7" r="0.8" fill="rgb(102,102,102)" opacity="0.55"/>
<circle cx="468.5" cy="140.1" r="0.8" fill="rgb(67,67,67)" opacity="0.55"/>
<circle cx="463.4" cy="75.3" r="0.7" fill="rgb(125,125,125)" opacity="0.55"/>
<circle cx="460.7" cy="132.6" r="0.4" fill="rgb(39,39,39)" opacity="0.55"/>
<circle cx="464.5" cy="56.7" r="0.7" fill="rgb(136,136,136)" opacity="0.55"/>
<circle cx="463.6" cy="91.6" r="0.8" fill="rgb(96,96,96)" opacity="0.55"/>
<circle cx="460.8" cy="96.9" r="0.5" fill="rgb(89,89,89)" opacity="0.55"/>
<circle cx="473.3" cy="110.7" r="1.0" fill="rgb(121,121,121)" opacity="0.55"/>
<circle cx="472.5" cy="61.3" r="0.8" fill="rgb(146,146,146)" opacity="0.55"/>
<circle cx="466.9" cy="100.5" r="0.4" fill="rgb(35,35,35)" opacity="0.55"/>
<circle cx="461.7" cy="58.6" r="0.4" fill="rgb(35,35,35)" opacity="0.55"/>
<circle cx="474.5" cy="103.3" r="0.7" fill="rgb(34,34,34)" opacity="0.55"/>
<circle cx="469.5" cy="111.1" r="0.7" fill="rgb(51,51,51)" opacity="0.55"/>
<circle cx="469.1" cy="61.9" r="0.6" fill="rgb(55,55,55)" opacity="0.55"/>
<circle cx="474.0" cy="93.6" r="0.5" fill="rgb(30,30,30)" opacity="0.55"/>
<circle cx="462.4" cy="65.4" r="0.9" fill="rgb(85,85,85)" opacity="0.55"/>
<circle cx="474.5" cy="135.1" r="0.8" fill="rgb(76,76,76)" opacity="0.55"/>
<circle cx="470.2" cy="114.2" r="0.8" fill="rgb(103,103,103)" opacity="0.55"/>
<circle cx="462.2" cy="138.5" r="0.6" fill="rgb(57,57,57)" opacity="0.55"/>
<circle cx="471.1" cy="76.6" r="0.9" fill="rgb(35,35,35)" opacity="0.55"/>
<circle cx="462.6" cy="84.4" r="0.7" fill="rgb(138,138,138)" opacity="0.55"/>
<circle cx="458.6" cy="101.6" r="0.7" fill="rgb(26,26,26)" opacity="0.55"/>
<circle cx="462.1" cy="82.7" r="0.7" fill="rgb(64,64,64)" opacity="0.55"/>
<circle cx="459.1" cy="71.1" r="0.6" fill="rgb(32,32,32)" opacity="0.55"/>
<circle cx="459.0" cy="68.6" r="0.8" fill="rgb(27,27,27)" opacity="0.55"/>
<circle cx="459.6" cy="119.1" r="0.9" fill="rgb(62,62,62)" opacity="0.55"/>
<circle cx="473.7" cy="126.2" r="0.5" fill="rgb(29,29,29)" opacity="0.55"/>
<circle cx="459.1" cy="73.8" r="0.7" fill="rgb(81,81,81)" opacity="0.55"/>
<circle cx="472.0" cy="67.8" r="0.6" fill="rgb(96,96,96)" opacity="0.55"/>
<circle cx="458.9" cy="92.5" r="0.8" fill="rgb(41,41,41)" opacity="0.55"/>
<circle cx="464.0" cy="87.8" r="0.9" fill="rgb(134,134,134)" opacity="0.55"/>
<circle cx="459.0" cy="109.1" r="0.7" fill="rgb(73,73,73)" opacity="0.55"/>
<circle cx="466.5" cy="64.9" r="0.8" fill="rgb(28,28,28)" opacity="0.55"/>
<circle cx="468.3" cy="126.9" r="0.4" fill="rgb(91,91,91)" opacity="0.55"/>
<circle cx="471.5" cy="73.7" r="0.7" fill="rgb(70,70,70)" opacity="0.55"/>
<circle cx="472.0" cy="98.3" r="1.0" fill="rgb(133,133,133)" opacity="0.55"/>
<circle cx="468.3" cy="100.3" r="1.0" fill="rgb(35,35,35)" opacity="0.55"/>
<circle cx="461.3" cy="76.2" r="0.9" fill="rgb(80,80,80)" opacity="0.55"/>
<circle cx="471.9" cy="115.8" r="0.5" fill="rgb(111,111,111)" opacity="0.55"/>
<circle cx="473.7" cy="135.4" r="0.6" fill="rgb(30,30,30)" opacity="0.55"/>
<circle cx="465.8" cy="82.3" r="0.6" fill="rgb(59,59,59)" opacity="0.55"/>
<circle cx="462.5" cy="131.6" r="0.6" fill="rgb(54,54,54)" opacity="0.55"/>
<circle cx="461.1" cy="84.3" r="0.5" fill="rgb(140,140,140)" opacity="0.55"/>
<circle cx="471.6" cy="93.8" r="0.6" fill="rgb(62,62,62)" opacity="0.55"/>
<circle cx="470.3" cy="111.1" r="0.6" fill="rgb(94,94,94)" opacity="0.55"/>
<circle cx="472.8" cy="116.3" r="0.8" fill="rgb(34,34,34)" opacity="0.55"/>
<circle cx="464.4" cy="107.7" r="0.6" fill="rgb(40,40,40)" opacity="0.55"/>
<circle cx="475.4" cy="137.7" r="0.6" fill="rgb(35,35,35)" opacity="0.55"/>
<circle cx="472.0" cy="140.1" r="0.5" fill="rgb(125,125,125)" opacity="0.55"/>
<circle cx="460.3" cy="110.7" r="0.4" fill="rgb(119,119,119)" opacity="0.55"/>
<circle cx="471.9" cy="90.4" r="0.7" fill="rgb(98,98,98)" opacity="0.55"/>
<circle cx="468.8" cy="68.6" r="0.9" fill="rgb(50,50,50)" opacity="0.55"/>
<circle cx="468.3" cy="93.1" r="0.8" fill="rgb(66,66,66)" opacity="0.55"/>
<circle cx="473.4" cy="112.0" r="0.8" fill="rgb(66,66,66)" opacity="0.55"/>
<circle cx="466.2" cy="111.0" r="0.9" fill="rgb(45,45,45)" opacity="0.55"/>
<circle cx="465.3" cy="77.1" r="0.6" fill="rgb(70,70,70)" opacity="0.55"/>
<circle cx="466.2" cy="92.5" r="0.9" fill="rgb(64,64,64)" opacity="0.55"/>
<circle cx="458.7" cy="84.4" r="0.6" fill="rgb(56,56,56)" opacity="0.55"/>
<circle cx="470.7" cy="75.0" r="0.5" fill="rgb(136,136,136)" opacity="0.55"/>
<circle cx="467.7" cy="105.3" r="0.8" fill="rgb(70,70,70)" opacity="0.55"/>
<circle cx="467.4" cy="127.0" r="1.0" fill="rgb(51,51,51)" opacity="0.55"/>
<circle cx="467.2" cy="72.1" r="0.8" fill="rgb(148,148,148)" opacity="0.55"/>
<circle cx="465.0" cy="78.0" r="0.7" fill="rgb(28,28,28)" opacity="0.55"/>
<circle cx="470.4" cy="92.2" r="0.5" fill="rgb(144,144,144)" opacity="0.55"/>
<circle cx="465.3" cy="82.3" r="0.7" fill="rgb(98,98,98)" opacity="0.55"/>
<circle cx="474.3" cy="70.5" r="0.8" fill="rgb(94,94,94)" opacity="0.55"/>
<circle cx="472.3" cy="117.8" r="0.7" fill="rgb(115,115,115)" opacity="0.55"/>
<circle cx="467.8" cy="81.5" r="0.9" fill="rgb(130,130,130)" opacity="0.55"/>
<circle cx="470.5" cy="76.1" r="0.8" fill="rgb(102,102,102)" opacity="0.55"/>
<circle cx="472.2" cy="97.4" r="0.8" fill="rgb(42,42,42)" opacity="0.55"/>
<circle cx="466.7" cy="83.7" r="0.5" fill="rgb(80,80,80)" opacity="0.55"/>
<circle cx="465.0" cy="82.3" r="0.9" fill="rgb(142,142,142)" opacity="0.55"/>
<circle cx="472.6" cy="68.4" r="0.8" fill="rgb(65,65,65)" opacity="0.55"/>
<circle cx="459.7" cy="74.3" r="0.7" fill="rgb(43,43,43)" opacity="0.55"/>
<circle cx="461.7" cy="129.1" r="0.5" fill="rgb(53,53,53)" opacity="0.55"/>
<circle cx="467.6" cy="90.7" r="0.8" fill="rgb(64,64,64)" opacity="0.55"/>
<circle cx="471.9" cy="132.5" r="0.8" fill="rgb(95,95,95)" opacity="0.55"/>
<circle cx="471.1" cy="101.6" r="0.6" fill="rgb(53,53,53)" opacity="0.55"/>
<circle cx="460.9" cy="76.4" r="0.7" fill="rgb(56,56,56)" opacity="0.55"/>
<circle cx="470.4" cy="133.5" r="0.7" fill="rgb(40,40,40)" opacity="0.55"/>
<circle cx="458.6" cy="129.8" r="0.8" fill="rgb(129,129,129)" opacity="0.55"/>
<circle cx="464.9" cy="127.9" r="0.8" fill="rgb(51,51,51)" opacity="0.55"/>
<circle cx="459.0" cy="110.6" r="0.9" fill="rgb(75,75,75)" opacity="0.55"/>
<circle cx="466.7" cy="64.5" r="0.8" fill="rgb(34,34,34)" opacity="0.55"/>
<circle cx="464.3" cy="109.6" r="0.7" fill="rgb(116,116,116)" opacity="0.55"/>
<circle cx="471.6" cy="101.2" r="0.6" fill="rgb(106,106,106)" opacity="0.55"/>
<circle cx="459.4" cy="77.9" r="0.9" fill="rgb(107,107,107)" opacity="0.55"/>
<circle cx="467.1" cy="90.8" r="1.0" fill="rgb(134,134,134)" opacity="0.55"/>
<circle cx="472.0" cy="112.1" r="0.8" fill="rgb(94,94,94)" opacity="0.55"/>
<circle cx="475.0" cy="67.3" r="0.8" fill="rgb(75,75,75)" opacity="0.55"/>
<circle cx="467.8" cy="131.8" r="0.5" fill="rgb(121,121,121)" opacity="0.55"/>
<circle cx="472.5" cy="60.4" r="0.9" fill="rgb(55,55,55)" opacity="0.55"/>
<circle cx="468.9" cy="133.8" r="0.5" fill="rgb(64,64,64)" opacity="0.55"/>
<circle cx="466.3" cy="113.2" r="0.9" fill="rgb(36,36,36)" opacity="0.55"/>
<circle cx="460.2" cy="92.3" r="0.9" fill="rgb(71,71,71)" opacity="0.55"/>
<circle cx="463.8" cy="68.3" r="0.5" fill="rgb(103,103,103)" opacity="0.55"/>
<circle cx="458.8" cy="59.4" r="0.7" fill="rgb(61,61,61)" opacity="0.55"/>
<circle cx="472.5" cy="100.9" r="0.7" fill="rgb(143,143,143)" opacity="0.55"/>
<circle cx="465.1" cy="57.7" r="0.9" fill="rgb(89,89,89)" opacity="0.55"/>
<circle cx="459.9" cy="103.1" r="0.8" fill="rgb(55,55,55)" opacity="0.55"/>
<circle cx="458.7" cy="92.8" r="0.5" fill="rgb(67,67,67)" opacity="0.55"/>
<circle cx="466.5" cy="66.8" r="0.7" fill="rgb(42,42,42)" opacity="0.55"/>
<circle cx="474.2" cy="119.8" r="0.6" fill="rgb(48,48,48)" opacity="0.55"/>
<circle cx="467.0" cy="103.9" r="0.8" fill="rgb(67,67,67)" opacity="0.55"/>
<circle cx="458.8" cy="57.5" r="0.6" fill="rgb(66,66,66)" opacity="0.55"/>
<circle cx="468.7" cy="83.1" r="0.6" fill="rgb(56,56,56)" opacity="0.55"/>
<circle cx="470.9" cy="137.1" r="1.0" fill="rgb(55,55,55)" opacity="0.55"/>
<circle cx="474.7" cy="66.4" r="0.7" fill="rgb(150,150,150)" opacity="0.55"/>
<circle cx="466.2" cy="122.6" r="0.6" fill="rgb(142,142,142)" opacity="0.55"/>
<circle cx="475.1" cy="61.7" r="0.9" fill="rgb(146,146,146)" opacity="0.55"/>
<circle cx="458.8" cy="118.2" r="0.8" fill="rgb(146,146,146)" opacity="0.55"/>
<circle cx="462.7" cy="139.5" r="0.9" fill="rgb(49,49,49)" opacity="0.55"/>
<circle cx="458.5" cy="80.6" r="0.5" fill="rgb(104,104,104)" opacity="0.55"/>
<circle cx="471.5" cy="134.8" r="0.9" fill="rgb(27,27,27)" opacity="0.55"/>
<circle cx="468.2" cy="130.2" r="0.6" fill="rgb(140,140,140)" opacity="0.55"/>
<circle cx="467.9" cy="63.7" r="0.6" fill="rgb(49,49,49)" opacity="0.55"/>
<circle cx="465.2" cy="61.4" r="0.8" fill="rgb(96,96,96)" opacity="0.55"/>
<circle cx="465.0" cy="57.3" r="0.9" fill="rgb(81,81,81)" opacity="0.55"/>
<circle cx="468.4" cy="76.3" r="0.7" fill="rgb(136,136,136)" opacity="0.55"/>
<circle cx="461.7" cy="106.6" r="0.9" fill="rgb(37,37,37)" opacity="0.55"/>
<circle cx="468.3" cy="81.1" r="0.5" fill="rgb(47,47,47)" opacity="0.55"/>
<circle cx="466.9" cy="134.9" r="0.9" fill="rgb(117,117,117)" opacity="0.55"/>
<circle cx="468.7" cy="69.8" r="0.5" fill="rgb(47,47,47)" opacity="0.55"/>
<circle cx="473.3" cy="73.9" r="0.6" fill="rgb(61,61,61)" opacity="0.55"/>
<circle cx="465.7" cy="122.7" r="0.6" fill="rgb(53,53,53)" opacity="0.55"/>
<circle cx="461.9" cy="59.7" r="0.4" fill="rgb(36,36,36)" opacity="0.55"/>
<circle cx="464.8" cy="59.5" r="1.0" fill="rgb(128,128,128)" opacity="0.55"/>
<circle cx="459.6" cy="133.8" r="0.8" fill="rgb(63,63,63)" opacity="0.55"/>
<circle cx="463.9" cy="64.1" r="0.5" fill="rgb(81,81,81)" opacity="0.55"/>
<circle cx="464.8" cy="128.7" r="0.4" fill="rgb(40,40,40)" opacity="0.55"/>
<circle cx="464.5" cy="78.2" r="0.6" fill="rgb(60,60,60)" opacity="0.55"/>
<circle cx="471.1" cy="100.1" r="0.5" fill="rgb(55,55,55)" opacity="0.55"/>
<circle cx="474.5" cy="120.7" r="0.9" fill="rgb(108,108,108)" opacity="0.55"/>
<circle cx="464.0" cy="65.5" r="0.6" fill="rgb(41,41,41)" opacity="0.55"/>
<circle cx="466.0" cy="88.8" r="0.8" fill="rgb(71,71,71)" opacity="0.55"/>
<circle cx="459.1" cy="73.1" r="0.9" fill="rgb(79,79,79)" opacity="0.55"/>
<circle cx="466.1" cy="68.4" r="0.8" fill="rgb(31,31,31)" opacity="0.55"/>
<circle cx="464.3" cy="94.9" r="0.8" fill="rgb(39,39,39)" opacity="0.55"/>
<circle cx="462.3" cy="68.6" r="0.7" fill="rgb(93,93,93)" opacity="0.55"/>
<circle cx="473.3" cy="68.8" r="0.5" fill="rgb(123,123,123)" opacity="0.55"/>
<circle cx="468.2" cy="58.7" r="0.6" fill="rgb(43,43,43)" opacity="0.55"/>
<circle cx="466.3" cy="65.8" r="1.0" fill="rgb(55,55,55)" opacity="0.55"/>
<circle cx="473.7" cy="61.3" r="0.9" fill="rgb(97,97,97)" opacity="0.55"/>
<circle cx="471.3" cy="66.6" r="1.0" fill="rgb(125,125,125)" opacity="0.55"/>
<circle cx="460.2" cy="135.1" r="0.4" fill="rgb(43,43,43)" opacity="0.55"/>
<circle cx="463.5" cy="118.3" r="0.9" fill="rgb(72,72,72)" opacity="0.55"/>
<circle cx="460.9" cy="85.5" r="0.5" fill="rgb(137,137,137)" opacity="0.55"/>
<circle cx="474.0" cy="93.5" r="0.5" fill="rgb(38,38,38)" opacity="0.55"/>
<circle cx="471.6" cy="71.8" r="0.8" fill="rgb(70,70,70)" opacity="0.55"/>
<circle cx="473.6" cy="127.0" r="0.5" fill="rgb(56,56,56)" opacity="0.55"/>
<circle cx="470.5" cy="108.6" r="0.5" fill="rgb(144,144,144)" opacity="0.55"/>
<circle cx="471.0" cy="62.1" r="0.6" fill="rgb(77,77,77)" opacity="0.55"/>
<circle cx="473.2" cy="128.1" r="0.6" fill="rgb(56,56,56)" opacity="0.55"/>
<circle cx="460.8" cy="121.4" r="0.5" fill="rgb(67,67,67)" opacity="0.55"/>
<circle cx="464.7" cy="127.2" r="0.6" fill="rgb(35,35,35)" opacity="0.55"/>
<circle cx="475.0" cy="135.7" r="0.8" fill="rgb(85,85,85)" opacity="0.55"/>
<circle cx="473.2" cy="125.9" r="0.6" fill="rgb(45,45,45)" opacity="0.55"/>
<circle cx="470.9" cy="65.7" r="0.7" fill="rgb(53,53,53)" opacity="0.55"/>
<circle cx="458.9" cy="102.2" r="0.5" fill="rgb(30,30,30)" opacity="0.55"/>
<circle cx="467.9" cy="83.0" r="1.0" fill="rgb(26,26,26)" opacity="0.55"/>
<circle cx="462.9" cy="119.3" r="0.7" fill="rgb(143,143,143)" opacity="0.55"/>
<circle cx="460.2" cy="116.2" r="0.6" fill="rgb(31,31,31)" opacity="0.55"/>
<circle cx="468.5" cy="96.0" r="0.5" fill="rgb(42,42,42)" opacity="0.55"/>
<circle cx="467.7" cy="131.7" r="0.8" fill="rgb(39,39,39)" opacity="0.55"/>
<circle cx="465.2" cy="95.8" r="0.8" fill="rgb(119,119,119)" opacity="0.55"/>
<circle cx="459.1" cy="107.7" r="0.6" fill="rgb(116,116,116)" opacity="0.55"/>
<circle cx="470.7" cy="127.8" r="0.9" fill="rgb(111,111,111)" opacity="0.55"/>
<circle cx="467.3" cy="61.1" r="0.9" fill="rgb(68,68,68)" opacity="0.55"/>
<circle cx="458.7" cy="112.9" r="0.4" fill="rgb(31,31,31)" opacity="0.55"/>
<circle cx="467.1" cy="93.3" r="0.7" fill="rgb(26,26,26)" opacity="0.55"/>
<circle cx="475.5" cy="90.2" r="0.4" fill="rgb(54,54,54)" opacity="0.55"/>
<circle cx="463.0" cy="111.0" r="0.8" fill="rgb(149,149,149)" opacity="0.55"/>
<circle cx="459.1" cy="125.0" r="0.7" fill="rgb(31,31,31)" opacity="0.55"/>
<circle cx="474.7" cy="93.4" r="0.6" fill="rgb(84,84,84)" opacity="0.55"/>
<circle cx="459.5" cy="70.7" r="0.7" fill="rgb(57,57,57)" opacity="0.55"/>
<circle cx="461.0" cy="101.9" r="0.9" fill="rgb(32,32,32)" opacity="0.55"/>
<circle cx="468.3" cy="134.3" r="0.8" fill="rgb(42,42,42)" opacity="0.55"/>
<circle cx="466.2" cy="80.9" r="0.8" fill="rgb(69,69,69)" opacity="0.55"/>
<circle cx="470.6" cy="73.6" r="0.8" fill="rgb(140,140,140)" opacity="0.55"/>
<circle cx="463.8" cy="96.4" r="0.5" fill="rgb(40,40,40)" opacity="0.55"/>
<circle cx="475.0" cy="102.9" r="0.5" fill="rgb(71,71,71)" opacity="0.55"/>
<circle cx="464.0" cy="137.4" r="0.6" fill="rgb(132,132,132)" opacity="0.55"/>
<circle cx="463.5" cy="140.4" r="0.8" fill="rgb(26,26,26)" opacity="0.55"/>
<circle cx="469.7" cy="86.1" r="0.6" fill="rgb(119,119,119)" opacity="0.55"/>
<circle cx="467.4" cy="121.3" r="0.6" fill="rgb(89,89,89)" opacity="0.55"/>
<circle cx="470.0" cy="86.5" r="0.9" fill="rgb(148,148,148)" opacity="0.55"/>
<circle cx="471.1" cy="100.5" r="0.6" fill="rgb(55,55,55)" opacity="0.55"/>
<circle cx="465.5" cy="65.3" r="0.7" fill="rgb(60,60,60)" opacity="0.55"/>
<circle cx="468.2" cy="138.3" r="0.6" fill="rgb(51,51,51)" opacity="0.55"/>
<circle cx="466.3" cy="94.9" r="0.6" fill="rgb(107,107,107)" opacity="0.55"/>
<circle cx="465.0" cy="103.7" r="0.6" fill="rgb(70,70,70)" opacity="0.55"/>
<circle cx="467.6" cy="82.0" r="0.7" fill="rgb(125,125,125)" opacity="0.55"/>
<circle cx="474.1" cy="64.0" r="1.0" fill="rgb(45,45,45)" opacity="0.55"/>
<circle cx="465.7" cy="73.9" r="0.6" fill="rgb(25,25,25)" opacity="0.55"/>
<circle cx="463.6" cy="132.7" r="0.7" fill="rgb(109,109,109)" opacity="0.55"/>
<circle cx="470.1" cy="100.5" r="0.4" fill="rgb(129,129,129)" opacity="0.55"/>
<circle cx="466.2" cy="114.0" r="0.5" fill="rgb(25,25,25)" opacity="0.55"/>
<circle cx="465.3" cy="88.3" r="0.9" fill="rgb(60,60,60)" opacity="0.55"/>
<circle cx="466.8" cy="138.5" r="0.8" fill="rgb(149,149,149)" opacity="0.55"/>
<circle cx="460.1" cy="119.9" r="1.0" fill="rgb(110,110,110)" opacity="0.55"/>
<circle cx="467.2" cy="126.7" r="0.9" fill="rgb(107,107,107)" opacity="0.55"/>
<circle cx="473.6" cy="140.7" r="0.7" fill="rgb(51,51,51)" opacity="0.55"/>
<circle cx="462.0" cy="125.9" r="0.4" fill="rgb(37,37,37)" opacity="0.55"/>
<circle cx="460.3" cy="104.5" r="0.8" fill="rgb(61,61,61)" opacity="0.55"/>
<circle cx="458.5" cy="57.4" r="1.0" fill="rgb(70,70,70)" opacity="0.55"/>
<circle cx="460.2" cy="90.3" r="0.5" fill="rgb(25,25,25)" opacity="0.55"/>
<circle cx="468.1" cy="121.9" r="0.7" fill="rgb(66,66,66)" opacity="0.55"/>
<circle cx="460.6" cy="91.4" r="0.4" fill="rgb(35,35,35)" opacity="0.55"/>
<circle cx="474.6" cy="63.0" r="0.9" fill="rgb(129,129,129)" opacity="0.55"/>
<circle cx="458.7" cy="61.8" r="0.8" fill="rgb(62,62,62)" opacity="0.55"/>
<circle cx="461.4" cy="86.6" r="0.9" fill="rgb(42,42,42)" opacity="0.55"/>
<circle cx="459.6" cy="137.1" r="0.4" fill="rgb(127,127,127)" opacity="0.55"/>
<circle cx="465.2" cy="75.2" r="0.8" fill="rgb(27,27,27)" opacity="0.55"/>
<circle cx="459.2" cy="77.7" r="0.4" fill="rgb(92,92,92)" opacity="0.55"/>
<circle cx="466.2" cy="130.2" r="1.0" fill="rgb(147,147,147)" opacity="0.55"/>
<circle cx="474.6" cy="98.6" r="0.6" fill="rgb(40,40,40)" opacity="0.55"/>
<circle cx="470.6" cy="90.4" r="0.5" fill="rgb(26,26,26)" opacity="0.55"/>
<circle cx="461.7" cy="87.0" r="0.5" fill="rgb(120,120,120)" opacity="0.55"/>
<circle cx="465.1" cy="101.9" r="0.7" fill="rgb(50,50,50)" opacity="0.55"/>
<circle cx="467.9" cy="134.1" r="0.6" fill="rgb(94,94,94)" opacity="0.55"/>
<circle cx="459.1" cy="76.7" r="0.9" fill="rgb(73,73,73)" opacity="0.55"/>
<circle cx="460.7" cy="77.1" r="0.7" fill="rgb(37,37,37)" opacity="0.55"/>
<circle cx="472.0" cy="96.2" r="0.6" fill="rgb(90,90,90)" opacity="0.55"/>
<circle cx="464.9" cy="117.9" r="1.0" fill="rgb(96,96,96)" opacity="0.55"/>
<circle cx="462.4" cy="99.4" r="0.8" fill="rgb(86,86,86)" opacity="0.55"/>
<circle cx="475.3" cy="93.9" r="0.8" fill="rgb(101,101,101)" opacity="0.55"/>
<circle cx="473.3" cy="74.6" r="0.7" fill="rgb(32,32,32)" opacity="0.55"/>
<circle cx="471.6" cy="79.5" r="0.6" fill="rgb(49,49,49)" opacity="0.55"/>
<circle cx="460.0" cy="89.6" r="0.5" fill="rgb(99,99,99)" opacity="0.55"/>
<circle cx="459.7" cy="132.3" r="0.5" fill="rgb(134,134,134)" opacity="0.55"/>
<circle cx="460.0" cy="117.6" r="0.6" fill="rgb(86,86,86)" opacity="0.55"/>
<circle cx="474.0" cy="90.8" r="1.0" fill="rgb(65,65,65)" opacity="0.55"/>
<circle cx="464.7" cy="71.5" r="0.4" fill="rgb(114,114,114)" opacity="0.55"/>
<circle cx="466.4" cy="116.3" r="0.5" fill="rgb(50,50,50)" opacity="0.55"/>
<circle cx="474.0" cy="66.3" r="0.4" fill="rgb(75,75,75)" opacity="0.55"/>
<circle cx="461.9" cy="70.3" r="0.8" fill="rgb(89,89,89)" opacity="0.55"/>
<circle cx="469.2" cy="103.4" r="0.7" fill="rgb(36,36,36)" opacity="0.55"/>
<circle cx="462.8" cy="117.4" r="1.0" fill="rgb(143,143,143)" opacity="0.55"/>
<circle cx="471.5" cy="66.0" r="0.9" fill="rgb(66,66,66)" opacity="0.55"/>
<circle cx="470.3" cy="106.2" r="0.9" fill="rgb(40,40,40)" opacity="0.55"/>
<circle cx="474.0" cy="74.4" r="1.0" fill="rgb(123,123,123)" opacity="0.55"/>
<circle cx="462.3" cy="108.8" r="1.0" fill="rgb(81,81,81)" opacity="0.55"/>
<circle cx="474.3" cy="92.5" r="0.7" fill="rgb(134,134,134)" opacity="0.55"/>
<circle cx="462.0" cy="114.0" r="0.7" fill="rgb(68,68,68)" opacity="0.55"/>
<circle cx="474.7" cy="72.6" r="0.7" fill="rgb(60,60,60)" opacity="0.55"/>
<circle cx="469.3" cy="138.9" r="1.0" fill="rgb(59,59,59)" opacity="0.55"/>
<circle cx="464.4" cy="70.8" r="0.5" fill="rgb(95,95,95)" opacity="0.55"/>
<circle cx="466.8" cy="114.8" r="0.4" fill="rgb(55,55,55)" opacity="0.55"/>
<circle cx="460.8" cy="115.3" r="0.5" fill="rgb(114,114,114)" opacity="0.55"/>
<circle cx="468.5" cy="116.7" r="0.7" fill="rgb(40,40,40)" opacity="0.55"/>
<circle cx="461.4" cy="121.1" r="0.9" fill="rgb(89,89,89)" opacity="0.55"/>
<circle cx="462.0" cy="91.0" r="0.6" fill="rgb(69,69,69)" opacity="0.55"/>
<circle cx="459.5" cy="74.0" r="0.5" fill="rgb(42,42,42)" opacity="0.55"/>
<circle cx="474.9" cy="82.8" r="0.7" fill="rgb(111,111,111)" opacity="0.55"/>
<circle cx="461.4" cy="87.4" r="0.7" fill="rgb(29,29,29)" opacity="0.55"/>
<circle cx="466.8" cy="139.8" r="0.5" fill="rgb(112,112,112)" opacity="0.55"/>
</g>
<polygon points="475.5,56.0 476.5,66.0 474.8,76.0 474.5,86.0 473.5,96.0 474.0,108.0 475.0,118.0 476.5,128.0 477.0,142.0 480.5,142.0 479.5,128.0 478.0,118.0 476.9,108.0 476.6,96.0 476.9,86.0 477.6,76.0 479.4,66.0 480.5,56.0" fill="#0c0c0c" filter="url(#bl3)"/>
<circle cx="484.5" cy="92" r="1.4" fill="#333" opacity="0.8" filter="url(#bl3)"/>
<g filter="url(#bl3)">
<line x1="250" y1="61.6" x2="278" y2="61.6" stroke="#fff" stroke-width="2.4"/>
<path d="M289,61.6 L275,56.4 L278.5,61.6 L275,66.8 Z" fill="#fff"/>
<line x1="343.6" y1="130.3" x2="316" y2="130.3" stroke="#fff" stroke-width="2.4"/>
<path d="M305,130.3 L319,125.10000000000001 L315.5,130.3 L319,135.5 Z" fill="#fff"/>
<line x1="427.3" y1="122.2" x2="399.3" y2="122.2" stroke="#fff" stroke-width="2.4"/>
<path d="M388.3,122.2 L402.3,117.0 L398.8,122.2 L402.3,127.4 Z" fill="#fff"/>
</g>
<rect x="101.2" y="132.6" width="82.1" height="5.8" fill="#000"/>
<rect x="102" y="133.3" width="20.3" height="4.4" fill="#fff"/>
<rect x="142.6" y="133.3" width="20.3" height="4.4" fill="#fff"/>
<text x="142" y="129.1" font-size="7.8" fill="#1e1e1e" text-anchor="middle" textLength="21.3" lengthAdjust="spacingAndGlyphs" stroke="#1e1e1e" stroke-width="0.25">40 µm</text>
</g>
<text x="0.6" y="52.5" font-size="31" text-anchor="start">a</text>
<text x="0.8" y="196.9" font-size="30.5" text-anchor="start">b</text>
<text x="0.8" y="353.1" font-size="30.5" text-anchor="start">c</text>
<text x="201.6" y="37.6" font-size="23.4" text-anchor="middle">Outside roll</text>
<text x="355.4" y="23.3" font-size="31.2" text-anchor="middle" textLength="35.4" lengthAdjust="spacingAndGlyphs">A2</text>
<text x="536.7" y="37.7" font-size="23.6" text-anchor="middle">Inside roll</text>
<defs><clipPath id="cpb"><rect x="99.2" y="195.9" width="506.09999999999997" height="40.599999999999994"/></clipPath><clipPath id="cpc"><rect x="99.2" y="352.9" width="506.09999999999997" height="41.1"/></clipPath></defs>
<g clip-path="url(#cpb)">
<rect x="99.2" y="195.9" width="506.09999999999997" height="40.599999999999994" fill="#58c8af"/>
<polygon points="202.5,195.0 203.5,205.0 203.0,215.0 201.0,226.0 202.5,238.0 452.0,238.0 451.5,226.0 451.0,215.0 451.5,205.0 452.0,195.0" fill="#5edfaa" stroke="#161616" stroke-width="0.7" stroke-linejoin="round"/>
<polygon points="206.5,195.0 208.0,205.0 207.6,215.0 207.8,226.0 208.7,238.0 433.5,238.0 434.5,226.0 435.8,215.0 434.5,207.0 432.0,202.5 427.0,199.0 424.5,195.0" fill="#64f8a8" stroke="#161616" stroke-width="0.75" stroke-linejoin="round"/>
<polygon points="444.6,195.0 451.5,195.0 449.0,199.8" fill="#58c8af" stroke="#161616" stroke-width="0.75" stroke-linejoin="round"/>
<polygon points="372.0,195.0 369.0,216.0 371.5,238.0 381.0,238.0 380.5,222.0 383.0,210.0 382.0,195.0" fill="#5edfaa" stroke="#161616" stroke-width="0.75" stroke-linejoin="round"/>
<polygon points="210.4,195.0 213.6,206.2 212.5,214.0 221.8,227.0 227.3,238.0 284.9,238.0 284.9,228.0 277.8,220.4 276.2,209.5 277.8,207.3 287.6,206.2 292.0,202.9 292.0,195.0" fill="#68ffa0" stroke="#161616" stroke-width="0.75" stroke-linejoin="round"/>
<polygon points="213.1,206.0 220.2,195.0 224.5,195.0 225.6,201.8 226.7,209.2 213.6,207.3" fill="#64f8a8" stroke="#161616" stroke-width="0.75" stroke-linejoin="round"/>
<polygon points="221.3,227.5 231.6,219.3 239.8,215.5 240.4,212.5 245.8,212.2 252.4,214.4 256.0,215.5 268.5,212.2 266.9,217.1 256.0,228.0 251.3,232.4 242.5,234.0 232.7,230.7 222.9,226.9" fill="#64f8a8" stroke="#161616" stroke-width="0.75" stroke-linejoin="round"/>
<ellipse cx="234.6" cy="226" rx="3.4" ry="2.2" fill="#5edfaa" stroke="#1a1a1a" stroke-width="0.8"/>
<polygon points="280.0,195.0 281.1,199.6 287.6,199.6 288.7,195.0" fill="#64ff8c" stroke="#161616" stroke-width="0.75" stroke-linejoin="round"/>
<polygon points="272.4,227.5 274.2,224.3 276.4,228.0 274.5,231.3" fill="#64f8a8" stroke="#161616" stroke-width="0.75" stroke-linejoin="round"/>
<polygon points="332.4,195.0 332.4,204.0 335.1,206.7 338.4,205.6 339.5,195.0" fill="#68ffa0" stroke="#161616" stroke-width="0.75" stroke-linejoin="round"/>
<polygon points="388.0,210.0 393.0,223.0 390.0,238.0 383.5,238.0 383.0,224.0" fill="#68ffa0" stroke="#161616" stroke-width="0.75" stroke-linejoin="round"/>
<polygon points="388.0,222.0 390.0,226.0 388.0,229.0 386.5,226.0" fill="#64ff8c" stroke="#161616" stroke-width="0.75" stroke-linejoin="round"/>
<polygon points="280.5,212.2 293.6,207.8 294.2,213.8 298.0,224.2 295.3,231.3 292.0,225.8 282.2,219.8" fill="#5edfaa" stroke="#161616" stroke-width="0.75" stroke-linejoin="round"/>
<polygon points="330.7,211.6 336.7,212.7 344.9,208.4 343.8,224.2 337.8,222.0 330.7,221.5" fill="#5edfaa" stroke="#161616" stroke-width="0.75" stroke-linejoin="round"/>
<polygon points="404.4,229.0 407.0,225.0 411.5,223.3 409.0,227.0 405.0,230.5" fill="#5edfaa" stroke="#161616" stroke-width="0.75" stroke-linejoin="round"/>
<polygon points="99.1,195.0 104.5,196.1 109.3,203.8 116.2,196.1 122.2,196.1 129.3,206.2 110.7,214.9 108.0,208.2 99.1,212.2" fill="#50b4ae" stroke="#161616" stroke-width="0.75" stroke-linejoin="round"/>
<polygon points="99.1,221.3 109.1,227.5 116.7,228.0 119.5,232.4 122.2,229.7 130.9,238.0 99.1,238.0" fill="#50b4ae" stroke="#161616" stroke-width="0.75" stroke-linejoin="round"/>
<polygon points="132.0,228.0 140.0,238.0 136.5,238.0" fill="#5edfaa" stroke="#161616" stroke-width="0.75" stroke-linejoin="round"/>
<polygon points="161.8,195.0 162.9,205.1 162.4,219.3 155.6,221.5 155.8,232.4 161.3,238.0 199.5,238.0 197.0,226.0 200.0,215.0 200.5,205.0 199.5,195.0" fill="#50b4ae" stroke="#161616" stroke-width="0.75" stroke-linejoin="round"/>
<polygon points="171.8,195.0 171.2,205.0 171.5,215.0 170.8,226.0 171.5,238.0 194.5,238.0 192.5,226.0 195.0,215.0 195.5,205.0 194.5,195.0" fill="#48a4bc" stroke="#161616" stroke-width="0.7" stroke-linejoin="round"/>
<polygon points="173.8,195.0 173.3,205.0 173.6,215.0 173.0,226.0 173.5,238.0 191.0,238.0 190.0,226.0 192.0,215.0 192.5,205.0 192.0,195.0" fill="#4490cc" stroke="#161616" stroke-width="0.7" stroke-linejoin="round"/>
<polygon points="175.6,195.0 175.2,205.0 175.4,215.0 175.0,226.0 175.4,238.0 187.5,238.0 186.5,226.0 188.2,215.0 188.6,205.0 188.0,195.0" fill="#4080d8" stroke="#161616" stroke-width="0.7" stroke-linejoin="round"/>
<polygon points="177.6,195.0 177.2,205.0 177.5,215.0 177.2,226.0 177.6,238.0 185.3,238.0 184.5,226.0 185.6,215.0 185.8,205.0 185.5,195.0" fill="#3c70e4" stroke="#161616" stroke-width="0.7" stroke-linejoin="round"/>
<polygon points="180.0,195.0 179.6,205.0 179.8,215.0 179.8,226.0 180.2,238.0 183.4,238.0 183.0,226.0 183.4,215.0 183.4,205.0 183.5,195.0" fill="#3060f4" stroke="#161616" stroke-width="0.7" stroke-linejoin="round"/>
<polygon points="457.9,195.0 459.9,205.0 460.9,215.0 460.9,226.0 460.4,238.0 610.0,238.0 610.0,195.0" fill="#50b4ae" stroke="#161616" stroke-width="0.75" stroke-linejoin="round"/>
<polygon points="461.3,195.0 462.3,205.0 463.5,215.0 463.8,226.0 463.3,238.0 502.0,238.0 502.5,226.0 503.5,215.0 504.0,205.0 504.4,195.0" fill="#48a4bc" stroke="#161616" stroke-width="0.7" stroke-linejoin="round"/>
<polygon points="464.2,195.0 465.0,205.0 466.0,215.0 466.3,226.0 465.8,238.0 492.0,238.0 493.5,226.0 495.0,215.0 495.3,205.0 495.5,195.0" fill="#4490cc" stroke="#161616" stroke-width="0.7" stroke-linejoin="round"/>
<polygon points="466.6,195.0 467.3,205.0 468.3,215.0 468.6,226.0 468.0,238.0 489.5,238.0 491.0,226.0 492.5,215.0 492.8,205.0 493.0,195.0" fill="#4080d8" stroke="#161616" stroke-width="0.7" stroke-linejoin="round"/>
<polygon points="469.5,195.0 470.0,205.0 470.8,215.0 471.0,226.0 470.5,238.0 487.8,238.0 489.0,226.0 490.0,215.0 490.3,205.0 490.5,195.0" fill="#3c70e4" stroke="#161616" stroke-width="0.7" stroke-linejoin="round"/>
<polygon points="471.0,195.0 471.5,205.0 472.0,215.0 472.5,226.0 472.0,238.0 486.5,238.0 487.5,226.0 488.5,215.0 488.8,205.0 489.0,195.0" fill="#3060f4" stroke="#161616" stroke-width="0.7" stroke-linejoin="round"/>
<polygon points="472.5,195.0 473.0,205.0 474.0,213.0 476.5,219.0 478.5,223.0 476.0,229.0 474.5,238.0 486.0,238.0 483.5,229.0 481.5,223.0 484.0,219.0 486.0,213.0 487.0,205.0 487.3,195.0" fill="#2a3cf8" stroke="#161616" stroke-width="0.75" stroke-linejoin="round"/>
<polygon points="474.0,195.0 474.5,205.0 475.8,213.0 478.5,218.5 480.3,221.0 482.2,218.5 484.3,213.0 485.3,205.0 485.5,195.0" fill="#1e28f8" stroke="#161616" stroke-width="0.75" stroke-linejoin="round"/>
<polygon points="476.0,195.0 476.5,205.0 477.5,211.0 479.0,215.0 480.5,216.5 482.0,215.0 483.2,211.0 484.0,205.0 484.2,195.0" fill="#1414fa" stroke="#161616" stroke-width="0.75" stroke-linejoin="round"/>
<polygon points="477.8,195.0 478.2,204.0 479.2,209.0 480.5,211.0 481.8,209.0 482.6,204.0 482.8,195.0" fill="#0000ff" stroke="#161616" stroke-width="0.75" stroke-linejoin="round"/>
<polygon points="478.5,230.0 480.5,226.5 482.5,230.0 483.3,238.0 477.7,238.0" fill="#1e28f8" stroke="#161616" stroke-width="0.75" stroke-linejoin="round"/>
</g>
<line x1="202.1" y1="195.9" x2="202.1" y2="236.5" stroke="#b0b0b0" stroke-width="0.9" opacity="0.7"/>
<line x1="305.6" y1="195.9" x2="305.6" y2="236.5" stroke="#b0b0b0" stroke-width="0.9" opacity="0.7"/>
<line x1="408.7" y1="195.9" x2="408.7" y2="236.5" stroke="#b0b0b0" stroke-width="0.9" opacity="0.7"/>
<line x1="512.2" y1="195.9" x2="512.2" y2="236.5" stroke="#b0b0b0" stroke-width="0.9" opacity="0.7"/>
<rect x="99.2" y="195.9" width="506.09999999999997" height="40.599999999999994" fill="none" stroke="#2a2a2a" stroke-width="1.1" opacity="0.85"/>
<line x1="99.2" y1="236.5" x2="99.2" y2="238.5" stroke="#333" stroke-width="0.8"/>
<line x1="99.2" y1="195.9" x2="99.2" y2="197.4" stroke="#333" stroke-width="0.8"/>
<line x1="202.1" y1="236.5" x2="202.1" y2="238.5" stroke="#333" stroke-width="0.8"/>
<line x1="202.1" y1="195.9" x2="202.1" y2="197.4" stroke="#333" stroke-width="0.8"/>
<line x1="305.6" y1="236.5" x2="305.6" y2="238.5" stroke="#333" stroke-width="0.8"/>
<line x1="305.6" y1="195.9" x2="305.6" y2="197.4" stroke="#333" stroke-width="0.8"/>
<line x1="408.7" y1="236.5" x2="408.7" y2="238.5" stroke="#333" stroke-width="0.8"/>
<line x1="408.7" y1="195.9" x2="408.7" y2="197.4" stroke="#333" stroke-width="0.8"/>
<line x1="512.2" y1="236.5" x2="512.2" y2="238.5" stroke="#333" stroke-width="0.8"/>
<line x1="512.2" y1="195.9" x2="512.2" y2="197.4" stroke="#333" stroke-width="0.8"/>
<line x1="96.8" y1="195.9" x2="99.2" y2="195.9" stroke="#333" stroke-width="0.8"/>
<line x1="96.8" y1="236.5" x2="99.2" y2="236.5" stroke="#333" stroke-width="0.8"/>
<g clip-path="url(#cpc)">
<rect x="99.2" y="352.9" width="506.09999999999997" height="41.10000000000002" fill="#f28872"/>
<polygon points="98.0,352.0 172.2,352.0 171.5,370.0 172.5,385.0 172.0,396.0 98.0,396.0" fill="#ebbe4a" stroke="#161616" stroke-width="0.75" stroke-linejoin="round"/>
<polygon points="98.0,364.0 104.0,370.0 103.5,380.0 98.0,385.0" fill="#eea05a" stroke="#161616" stroke-width="0.75" stroke-linejoin="round"/>
<polygon points="98.0,387.0 103.5,396.0 98.0,396.0" fill="#eea05a" stroke="#161616" stroke-width="0.75" stroke-linejoin="round"/>
<polygon points="118.3,362.6 120.0,360.6 122.0,362.8 120.0,364.8" fill="#eea05a" stroke="#161616" stroke-width="0.75" stroke-linejoin="round"/>
<polygon points="125.5,352.0 128.8,359.9 133.1,363.2 132.0,370.8 133.7,381.8 132.0,387.2 133.7,396.0 164.0,396.0 162.4,381.0 164.6,374.0 165.1,363.0 163.5,356.0 164.0,352.0" fill="#eedd44" stroke="#161616" stroke-width="0.75" stroke-linejoin="round"/>
<polygon points="109.6,373.6 128.8,365.4 129.8,370.8 120.0,384.5 109.6,375.2" fill="#eedd44" stroke="#161616" stroke-width="0.75" stroke-linejoin="round"/>
<polygon points="147.6,381.8 150.9,375.7 157.5,383.4 150.4,388.3" fill="#ebbe4a" stroke="#161616" stroke-width="0.75" stroke-linejoin="round"/>
<polygon points="162.4,384.0 171.7,382.3 171.7,387.8" fill="#eedd44" stroke="#161616" stroke-width="0.75" stroke-linejoin="round"/>
<polygon points="172.2,352.0 175.0,352.0 174.3,370.0 175.3,385.0 175.0,396.0 172.0,396.0 172.5,385.0 171.5,370.0" fill="#eea05a" stroke="#161616" stroke-width="0.75" stroke-linejoin="round"/>
<polygon points="175.0,352.0 177.7,352.0 177.0,370.0 178.0,385.0 177.7,396.0 175.0,396.0 175.3,385.0 174.3,370.0" fill="#f28872" stroke="#161616" stroke-width="0.75" stroke-linejoin="round"/>
<polygon points="177.7,352.0 180.4,352.0 179.7,370.0 180.7,385.0 180.4,396.0 177.7,396.0 178.0,385.0 177.0,370.0" fill="#f4708e" stroke="#161616" stroke-width="0.75" stroke-linejoin="round"/>
<polygon points="180.4,352.0 200.4,352.0 200.4,372.0 196.0,372.5 193.5,364.3 193.5,352.0 193.5,364.3 186.4,372.5 184.2,381.8 186.4,396.0 180.4,396.0 180.7,385.0 179.7,370.0" fill="#f85ab2"/>
<polyline points="180.4,352.0 179.7,370.0 180.7,385.0 180.4,396.0" fill="none" stroke="#1a1a1a" stroke-width="0.7"/>
<polyline points="193.5,352.0 193.5,364.3 186.4,372.5 184.2,381.8 186.4,396.0" fill="none" stroke="#1a1a1a" stroke-width="0.7"/>
<polyline points="200.4,352.0 200.4,372.0 196.0,372.5 193.5,364.3" fill="none" stroke="#1a1a1a" stroke-width="0.7"/>
<polygon points="193.5,364.3 196.0,372.5 200.4,372.0 203.0,371.5 203.0,373.3 196.0,373.8 190.0,375.5 188.0,382.0 190.0,390.0 192.5,396.0 186.4,396.0 184.2,381.8 186.4,372.5" fill="#f4708e"/>
<polyline points="203.0,373.3 196.0,373.8 190.0,375.5 188.0,382.0 190.0,390.0 192.5,396.0" fill="none" stroke="#1a1a1a" stroke-width="0.7"/>
<polygon points="206.9,352.0 207.1,365.0 207.8,368.5 211.0,373.5 212.0,377.3 218.4,379.4 220.1,377.7 222.3,372.0 223.7,374.2 224.7,384.0 223.0,385.4 213.5,396.0 234.6,396.0 244.4,385.4 243.0,381.2 238.5,373.5 238.8,365.0 238.6,352.0" fill="#eea05a" stroke="#161616" stroke-width="0.75" stroke-linejoin="round"/>
<polyline points="223.5,385.2 231.8,393.4" fill="none" stroke="#1a1a1a" stroke-width="0.9"/>
<polygon points="246.0,352.0 248.2,355.0 254.2,359.9 260.2,359.4 260.2,352.0" fill="#eea05a" stroke="#161616" stroke-width="0.75" stroke-linejoin="round"/>
<polygon points="278.2,352.0 278.8,358.3 284.8,362.1 290.2,358.8 291.3,352.0" fill="#eea05a" stroke="#161616" stroke-width="0.75" stroke-linejoin="round"/>
<polygon points="246.0,381.8 258.0,374.1 259.1,368.7 268.9,369.2 268.4,374.1 274.4,380.7 281.5,377.4 276.6,385.0 274.9,396.0 272.2,396.0 271.7,385.0 264.6,378.5 260.2,384.0 257.5,396.0 246.0,396.0" fill="#eea05a" stroke="#161616" stroke-width="0.75" stroke-linejoin="round"/>
<polygon points="291.9,381.0 296.0,378.0 301.5,377.0 298.0,388.0 293.0,390.0" fill="#f4708e" stroke="#161616" stroke-width="0.75" stroke-linejoin="round"/>
<polygon points="297.6,363.2 305.6,359.4 313.5,363.2 305.6,366.5" fill="#f4708e" stroke="#161616" stroke-width="0.75" stroke-linejoin="round"/>
<polygon points="312.4,380.1 316.2,379.6 317.3,384.0 316.2,396.0 311.8,396.0 313.5,385.0" fill="#f4708e" stroke="#161616" stroke-width="0.75" stroke-linejoin="round"/>
<polygon points="323.8,352.0 325.5,355.6 332.0,357.2 333.1,376.3 336.4,381.2 339.1,376.3 340.2,352.0" fill="#eea05a" stroke="#161616" stroke-width="0.75" stroke-linejoin="round"/>
<polygon points="370.6,352.0 367.8,366.5 357.5,362.1 350.9,367.0 351.5,381.8 353.6,384.0 347.1,388.3 346.5,396.0 379.3,396.0 379.3,352.0" fill="#f4708e" stroke="#161616" stroke-width="0.75" stroke-linejoin="round"/>
<polygon points="386.8,352.0 387.3,370.0 383.8,382.5 388.0,393.2 393.5,382.5 389.2,370.0 389.5,352.0" fill="#eea05a" stroke="#161616" stroke-width="0.75" stroke-linejoin="round"/>
<circle cx="388.3" cy="383" r="0.6" fill="#333"/>
<polygon points="398.2,396.0 398.2,382.8 402.5,387.8 409.1,388.3 418.9,379.0 429.3,384.5 441.9,371.9 438.0,364.3 444.0,352.0 470.0,352.0 470.0,396.0" fill="#f4708e" stroke="#161616" stroke-width="0.75" stroke-linejoin="round"/>
<polygon points="398.2,382.8 405.3,370.3 411.3,371.4" fill="#f4708e" stroke="#161616" stroke-width="0.75" stroke-linejoin="round"/>
<polygon points="456.4,352.0 456.9,357.7 460.2,365.4 462.4,381.8 461.3,396.0 484.0,396.0 483.0,352.0" fill="#f85ab2" stroke="#161616" stroke-width="0.75" stroke-linejoin="round"/>
<polygon points="465.7,352.0 468.9,370.3 474.9,372.5 470.5,385.0 477.6,381.8 482.0,374.0 483.6,352.0" fill="#f844d8" stroke="#161616" stroke-width="0.75" stroke-linejoin="round"/>
<polygon points="476.0,352.0 476.6,364.3 480.9,367.0 481.5,352.0" fill="#ff28ff" stroke="#161616" stroke-width="0.75" stroke-linejoin="round"/>
<polygon points="482.0,352.0 484.2,352.0 483.5,375.0 481.8,385.0 484.5,396.0 486.0,396.0 486.0,352.0" fill="#f85ab2" stroke="#161616" stroke-width="0.75" stroke-linejoin="round"/>
<polygon points="484.2,352.0 486.5,352.0 486.0,370.0 484.5,383.0 486.0,396.0 488.5,396.0 488.0,352.0" fill="#f4708e" stroke="#161616" stroke-width="0.75" stroke-linejoin="round"/>
<polygon points="486.5,352.0 489.0,352.0 488.3,370.0 486.8,383.0 488.0,396.0 490.0,396.0 490.0,352.0" fill="#f28872" stroke="#161616" stroke-width="0.75" stroke-linejoin="round"/>
<polygon points="489.0,352.0 491.8,352.0 490.8,370.0 489.1,381.0 488.0,396.0 492.0,396.0 492.0,352.0" fill="#eea05a" stroke="#161616" stroke-width="0.75" stroke-linejoin="round"/>
<polygon points="491.8,352.0 490.8,370.0 489.1,381.0 489.8,396.0 606.0,396.0 606.0,352.0" fill="#ebbe4a" stroke="#161616" stroke-width="0.75" stroke-linejoin="round"/>
<circle cx="492.6" cy="384.7" r="1" fill="#222"/>
</g>
<line x1="202.1" y1="352.9" x2="202.1" y2="394.0" stroke="#b0b0b0" stroke-width="0.9" opacity="0.7"/>
<line x1="305.6" y1="352.9" x2="305.6" y2="394.0" stroke="#b0b0b0" stroke-width="0.9" opacity="0.7"/>
<line x1="408.7" y1="352.9" x2="408.7" y2="394.0" stroke="#b0b0b0" stroke-width="0.9" opacity="0.7"/>
<line x1="512.2" y1="352.9" x2="512.2" y2="394.0" stroke="#b0b0b0" stroke-width="0.9" opacity="0.7"/>
<rect x="99.2" y="352.9" width="506.09999999999997" height="41.10000000000002" fill="none" stroke="#2a2a2a" stroke-width="1.1" opacity="0.85"/>
<line x1="99.2" y1="394.0" x2="99.2" y2="396.0" stroke="#333" stroke-width="0.8"/>
<line x1="99.2" y1="352.9" x2="99.2" y2="354.4" stroke="#333" stroke-width="0.8"/>
<line x1="202.1" y1="394.0" x2="202.1" y2="396.0" stroke="#333" stroke-width="0.8"/>
<line x1="202.1" y1="352.9" x2="202.1" y2="354.4" stroke="#333" stroke-width="0.8"/>
<line x1="305.6" y1="394.0" x2="305.6" y2="396.0" stroke="#333" stroke-width="0.8"/>
<line x1="305.6" y1="352.9" x2="305.6" y2="354.4" stroke="#333" stroke-width="0.8"/>
<line x1="408.7" y1="394.0" x2="408.7" y2="396.0" stroke="#333" stroke-width="0.8"/>
<line x1="408.7" y1="352.9" x2="408.7" y2="354.4" stroke="#333" stroke-width="0.8"/>
<line x1="512.2" y1="394.0" x2="512.2" y2="396.0" stroke="#333" stroke-width="0.8"/>
<line x1="512.2" y1="352.9" x2="512.2" y2="354.4" stroke="#333" stroke-width="0.8"/>
<line x1="96.8" y1="352.9" x2="99.2" y2="352.9" stroke="#333" stroke-width="0.8"/>
<line x1="96.8" y1="394.0" x2="99.2" y2="394.0" stroke="#333" stroke-width="0.8"/>
<text x="89.3" y="202" font-size="16" text-anchor="end">20</text>
<text x="89.3" y="242.3" font-size="16" text-anchor="end">0</text>
<text x="89.3" y="359.2" font-size="16" text-anchor="end">20</text>
<text x="89.3" y="400" font-size="16" text-anchor="end">0</text>
<text x="99.2" y="258.6" font-size="16" text-anchor="middle">0</text>
<text x="99.2" y="415.6" font-size="16" text-anchor="middle">0</text>
<text x="202" y="258.6" font-size="16" text-anchor="middle">50</text>
<text x="202" y="415.6" font-size="16" text-anchor="middle">50</text>
<text x="306.2" y="258.6" font-size="16" text-anchor="middle">100</text>
<text x="306.2" y="415.6" font-size="16" text-anchor="middle">100</text>
<text x="409" y="258.6" font-size="16" text-anchor="middle">150</text>
<text x="409" y="415.6" font-size="16" text-anchor="middle">150</text>
<text x="511.5" y="258.6" font-size="16" text-anchor="middle">200</text>
<text x="511.5" y="415.6" font-size="16" text-anchor="middle">200</text>
<text x="351.5" y="434.3" font-size="16" text-anchor="middle" textLength="144" lengthAdjust="spacingAndGlyphs"><tspan font-style="italic">X</tspan> - coordinate / <tspan font-style="italic">µ</tspan>m</text>
<text transform="translate(54.3,295.3) rotate(-90)" font-size="16" text-anchor="middle" textLength="143" lengthAdjust="spacingAndGlyphs"><tspan font-style="italic">Y</tspan> - coordinate / <tspan font-style="italic">µ</tspan>m</text>
<text x="314.6" y="184.7" font-size="19.5"><tspan font-style="italic">E</tspan><tspan font-size="14" dy="4.1">r</tspan><tspan dy="-4.1" dx="0.9"> / GPa</tspan></text>
<text x="316.3" y="343.9" font-size="19.5" textLength="71" lengthAdjust="spacingAndGlyphs"><tspan font-style="italic">H</tspan> / GPa</text>
<rect x="626.5" y="160.00" width="14.0" height="7.85" fill="#64ff8c"/>
<rect x="626.5" y="167.55" width="14.0" height="7.85" fill="#68ffa0"/>
<rect x="626.5" y="175.09" width="14.0" height="7.85" fill="#64f8a8"/>
<rect x="626.5" y="182.64" width="14.0" height="7.85" fill="#5edfaa"/>
<rect x="626.5" y="190.19" width="14.0" height="7.85" fill="#58c8af"/>
<rect x="626.5" y="197.73" width="14.0" height="7.85" fill="#50b4ae"/>
<rect x="626.5" y="205.28" width="14.0" height="7.85" fill="#48a4bc"/>
<rect x="626.5" y="212.83" width="14.0" height="7.85" fill="#4490cc"/>
<rect x="626.5" y="220.37" width="14.0" height="7.85" fill="#4080d8"/>
<rect x="626.5" y="227.92" width="14.0" height="7.85" fill="#3c70e4"/>
<rect x="626.5" y="235.47" width="14.0" height="7.85" fill="#3060f4"/>
<rect x="626.5" y="243.01" width="14.0" height="7.85" fill="#2a3cf8"/>
<rect x="626.5" y="250.56" width="14.0" height="7.85" fill="#1e28f8"/>
<rect x="626.5" y="258.11" width="14.0" height="7.85" fill="#1414fa"/>
<rect x="626.5" y="265.65" width="14.0" height="7.85" fill="#0000ff"/>
<line x1="626.5" y1="167.55" x2="640.5" y2="167.55" stroke="#1a1a1a" stroke-width="0.9" opacity="0.75"/>
<line x1="626.5" y1="175.09" x2="640.5" y2="175.09" stroke="#1a1a1a" stroke-width="0.9" opacity="0.75"/>
<line x1="626.5" y1="182.64" x2="640.5" y2="182.64" stroke="#1a1a1a" stroke-width="0.9" opacity="0.75"/>
<line x1="626.5" y1="190.19" x2="640.5" y2="190.19" stroke="#1a1a1a" stroke-width="0.9" opacity="0.75"/>
<line x1="626.5" y1="197.73" x2="640.5" y2="197.73" stroke="#1a1a1a" stroke-width="0.9" opacity="0.75"/>
<line x1="626.5" y1="205.28" x2="640.5" y2="205.28" stroke="#1a1a1a" stroke-width="0.9" opacity="0.75"/>
<line x1="626.5" y1="212.83" x2="640.5" y2="212.83" stroke="#1a1a1a" stroke-width="0.9" opacity="0.75"/>
<line x1="626.5" y1="220.37" x2="640.5" y2="220.37" stroke="#1a1a1a" stroke-width="0.9" opacity="0.75"/>
<line x1="626.5" y1="227.92" x2="640.5" y2="227.92" stroke="#1a1a1a" stroke-width="0.9" opacity="0.75"/>
<line x1="626.5" y1="235.47" x2="640.5" y2="235.47" stroke="#1a1a1a" stroke-width="0.9" opacity="0.75"/>
<line x1="626.5" y1="243.01" x2="640.5" y2="243.01" stroke="#1a1a1a" stroke-width="0.9" opacity="0.75"/>
<line x1="626.5" y1="250.56" x2="640.5" y2="250.56" stroke="#1a1a1a" stroke-width="0.9" opacity="0.75"/>
<line x1="626.5" y1="258.11" x2="640.5" y2="258.11" stroke="#1a1a1a" stroke-width="0.9" opacity="0.75"/>
<line x1="626.5" y1="265.65" x2="640.5" y2="265.65" stroke="#1a1a1a" stroke-width="0.9" opacity="0.75"/>
<rect x="626.5" y="160" width="14.0" height="113.19999999999999" fill="none" stroke="#333" stroke-width="0.9"/>
<line x1="640.5" y1="167.55" x2="643.5" y2="167.55" stroke="#333" stroke-width="0.8"/>
<text x="651" y="173.65" font-size="16.2" text-anchor="start">5.5</text>
<line x1="640.5" y1="182.64" x2="643.5" y2="182.64" stroke="#333" stroke-width="0.8"/>
<text x="651" y="188.74" font-size="16.2" text-anchor="start">5.0</text>
<line x1="640.5" y1="197.73" x2="643.5" y2="197.73" stroke="#333" stroke-width="0.8"/>
<text x="651" y="203.83" font-size="16.2" text-anchor="start">4.5</text>
<line x1="640.5" y1="212.83" x2="643.5" y2="212.83" stroke="#333" stroke-width="0.8"/>
<text x="651" y="218.93" font-size="16.2" text-anchor="start">4.0</text>
<line x1="640.5" y1="227.92" x2="643.5" y2="227.92" stroke="#333" stroke-width="0.8"/>
<text x="651" y="234.02" font-size="16.2" text-anchor="start">3.5</text>
<line x1="640.5" y1="243.01" x2="643.5" y2="243.01" stroke="#333" stroke-width="0.8"/>
<text x="651" y="249.11" font-size="16.2" text-anchor="start">3.0</text>
<line x1="640.5" y1="258.11" x2="643.5" y2="258.11" stroke="#333" stroke-width="0.8"/>
<text x="651" y="264.21" font-size="16.2" text-anchor="start">2.5</text>
<line x1="640.5" y1="273.20" x2="643.5" y2="273.20" stroke="#333" stroke-width="0.8"/>
<text x="651" y="279.30" font-size="16.2" text-anchor="start">2.0</text>
<rect x="626.7" y="316.70" width="13.5" height="11.63" fill="#f0f03c"/>
<rect x="626.7" y="328.03" width="13.5" height="11.63" fill="#eedd44"/>
<rect x="626.7" y="339.36" width="13.5" height="11.63" fill="#ebbe4a"/>
<rect x="626.7" y="350.69" width="13.5" height="11.63" fill="#eea05a"/>
<rect x="626.7" y="362.02" width="13.5" height="11.63" fill="#f28872"/>
<rect x="626.7" y="373.35" width="13.5" height="11.63" fill="#f4708e"/>
<rect x="626.7" y="384.68" width="13.5" height="11.63" fill="#f85ab2"/>
<rect x="626.7" y="396.01" width="13.5" height="11.63" fill="#f844d8"/>
<rect x="626.7" y="407.34" width="13.5" height="11.63" fill="#f838f0"/>
<rect x="626.7" y="418.67" width="13.5" height="11.63" fill="#ff28ff"/>
<line x1="626.7" y1="328.03" x2="640.2" y2="328.03" stroke="#1a1a1a" stroke-width="0.9" opacity="0.75"/>
<line x1="626.7" y1="339.36" x2="640.2" y2="339.36" stroke="#1a1a1a" stroke-width="0.9" opacity="0.75"/>
<line x1="626.7" y1="350.69" x2="640.2" y2="350.69" stroke="#1a1a1a" stroke-width="0.9" opacity="0.75"/>
<line x1="626.7" y1="362.02" x2="640.2" y2="362.02" stroke="#1a1a1a" stroke-width="0.9" opacity="0.75"/>
<line x1="626.7" y1="373.35" x2="640.2" y2="373.35" stroke="#1a1a1a" stroke-width="0.9" opacity="0.75"/>
<line x1="626.7" y1="384.68" x2="640.2" y2="384.68" stroke="#1a1a1a" stroke-width="0.9" opacity="0.75"/>
<line x1="626.7" y1="396.01" x2="640.2" y2="396.01" stroke="#1a1a1a" stroke-width="0.9" opacity="0.75"/>
<line x1="626.7" y1="407.34" x2="640.2" y2="407.34" stroke="#1a1a1a" stroke-width="0.9" opacity="0.75"/>
<line x1="626.7" y1="418.67" x2="640.2" y2="418.67" stroke="#1a1a1a" stroke-width="0.9" opacity="0.75"/>
<line x1="626.7" y1="362.02" x2="640.2" y2="362.02" stroke="#111" stroke-width="1.6"/>
<rect x="626.7" y="316.7" width="13.5" height="113.30000000000001" fill="none" stroke="#333" stroke-width="0.9"/>
<line x1="640.2" y1="316.70" x2="643.2" y2="316.70" stroke="#333" stroke-width="0.8"/>
<text x="651" y="322.80" font-size="16.2" text-anchor="start">0.35</text>
<line x1="640.2" y1="339.36" x2="643.2" y2="339.36" stroke="#333" stroke-width="0.8"/>
<text x="651" y="345.46" font-size="16.2" text-anchor="start">0.30</text>
<line x1="640.2" y1="362.02" x2="643.2" y2="362.02" stroke="#333" stroke-width="0.8"/>
<text x="651" y="368.12" font-size="16.2" text-anchor="start">0.25</text>
<line x1="640.2" y1="384.68" x2="643.2" y2="384.68" stroke="#333" stroke-width="0.8"/>
<text x="651" y="390.78" font-size="16.2" text-anchor="start">0.20</text>
<line x1="640.2" y1="407.34" x2="643.2" y2="407.34" stroke="#333" stroke-width="0.8"/>
<text x="651" y="413.44" font-size="16.2" text-anchor="start">0.15</text>
<line x1="640.2" y1="430.00" x2="643.2" y2="430.00" stroke="#333" stroke-width="0.8"/>
<text x="651" y="436.10" font-size="16.2" text-anchor="start">0.10</text>
</svg></body></html>
